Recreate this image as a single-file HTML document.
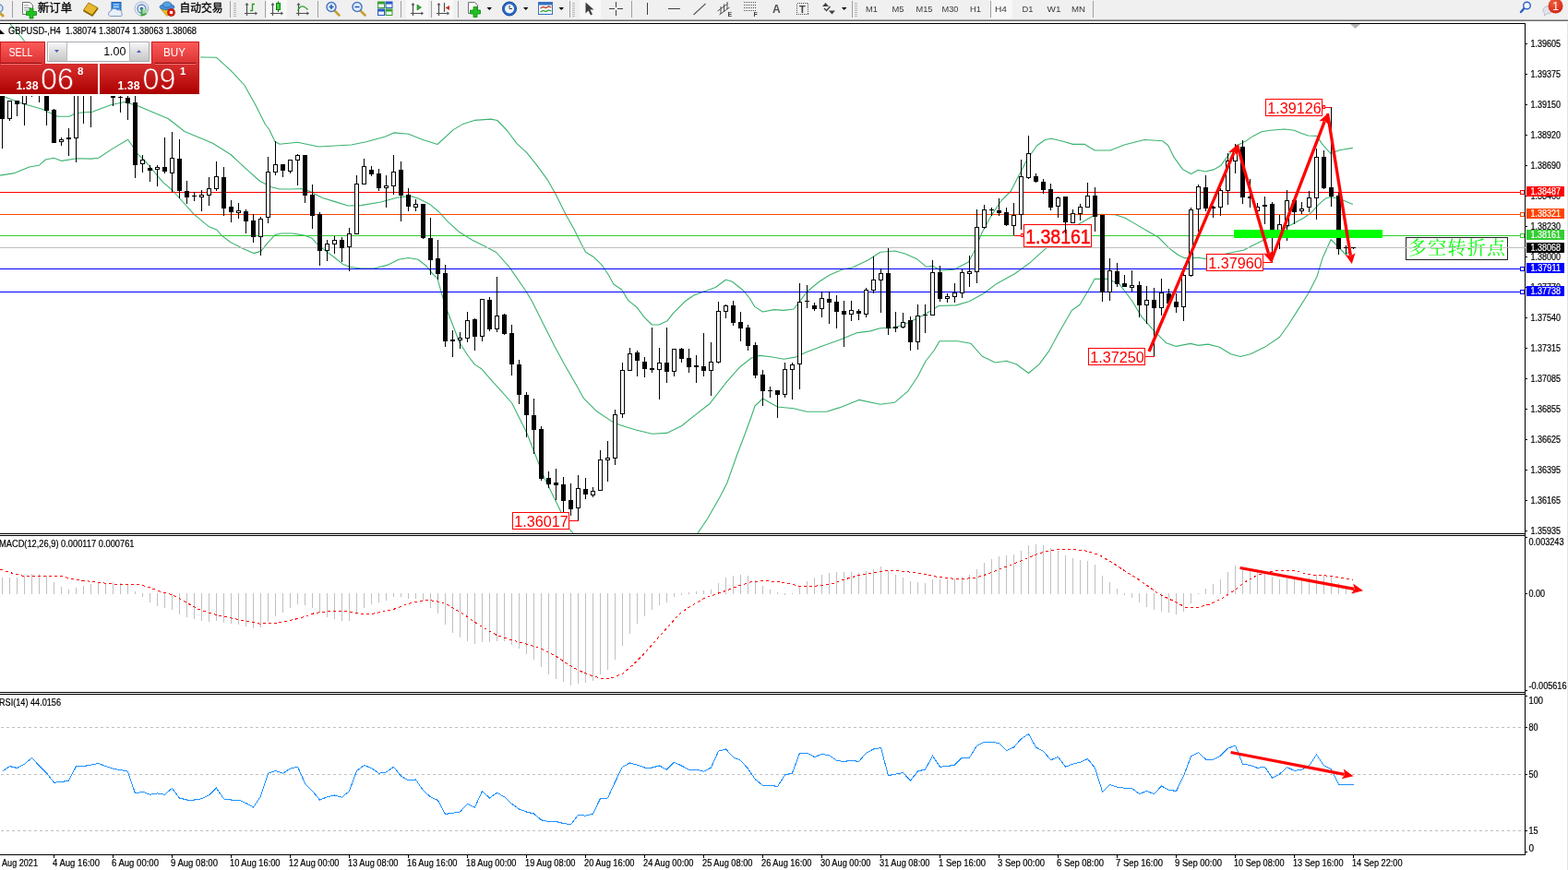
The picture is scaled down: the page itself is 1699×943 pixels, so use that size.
<!DOCTYPE html>
<html lang="zh"><head><meta charset="utf-8"><title>GBPUSD-,H4</title>
<style>html,body{margin:0;padding:0;background:#fff;overflow:hidden}body{width:1699px;height:943px;position:relative;font-family:'Liberation Sans', 'Noto Sans CJK SC', sans-serif}svg{position:absolute;left:0;top:0;display:block}text{font-family:'Liberation Sans', 'Noto Sans CJK SC', sans-serif}</style></head><body>
<svg width="1699" height="943" viewBox="0 0 1699 943">
<defs>
<clipPath id="cm"><rect x="0" y="26" width="1652" height="552"/></clipPath>
<clipPath id="cd"><rect x="0" y="581" width="1652" height="169"/></clipPath>
<clipPath id="cr"><rect x="0" y="753" width="1652" height="173"/></clipPath>
<linearGradient id="gs" x1="0" y1="0" x2="0" y2="1"><stop offset="0" stop-color="#ff5c5c"/><stop offset="1" stop-color="#d93030"/></linearGradient>
<linearGradient id="gp" x1="0" y1="0" x2="0" y2="1"><stop offset="0" stop-color="#d83030"/><stop offset="1" stop-color="#ad0000"/></linearGradient>
<linearGradient id="gb" x1="0" y1="0" x2="0" y2="1"><stop offset="0" stop-color="#f4f4f4"/><stop offset="0.5" stop-color="#dcdcdc"/><stop offset="1" stop-color="#c8c8c8"/></linearGradient>
<radialGradient id="gr" cx="0.4" cy="0.3" r="0.8"><stop offset="0" stop-color="#f0603c"/><stop offset="1" stop-color="#d02010"/></radialGradient>
</defs>
<rect x="0" y="0" width="1699" height="943" fill="#ffffff"/>
<g shape-rendering="crispEdges">
<rect x="0" y="25" width="1653" height="1" fill="#000"/>
<rect x="1652" y="25" width="1" height="902" fill="#000"/>
<rect x="0" y="578" width="1653" height="1" fill="#000"/>
<rect x="0" y="580" width="1653" height="1" fill="#000"/>
<rect x="0" y="750" width="1653" height="1" fill="#000"/>
<rect x="0" y="752" width="1653" height="1" fill="#000"/>
<rect x="0" y="926" width="1653" height="1" fill="#000"/>
<rect x="1698" y="23" width="1" height="920" fill="#e3e3e3"/>
</g>
<g clip-path="url(#cm)">
<polyline fill="none" stroke="#3cb371" stroke-width="1.1" points="11.0,26.0 25.0,42.5 28.0,47.0 60.0,58.0 120.0,64.0 180.0,62.0 217.5,62.0 234.5,62.3 250.0,76.3 265.0,92.5 277.5,115.0 287.5,135.0 291.5,140.0 298.0,153.5 303.0,156.2 322.4,154.3 345.4,159.0 380.7,157.0 396.6,153.8 417.8,148.0 426.6,143.9 442.5,145.3 457.7,151.2 474.0,156.5 491.2,140.6 501.8,134.4 514.2,130.4 531.8,129.1 538.9,130.5 549.5,141.5 560.0,155.6 570.7,165.3 581.3,178.6 593.6,195.4 602.5,211.2 613.0,232.4 621.9,248.3 630.7,266.0 634.8,273.5 643.6,278.8 652.5,287.7 659.5,298.3 664.8,308.0 673.7,314.0 680.7,325.6 689.6,332.7 698.4,344.2 706.3,352.0 714.3,352.0 723.0,347.7 730.0,338.9 742.5,326.5 751.4,320.3 761.2,316.5 775.3,311.5 786.3,303.2 793.0,305.0 805.3,314.7 812.4,323.5 817.7,332.4 826.5,338.0 838.9,335.6 849.5,336.4 860.0,335.0 867.0,326.2 874.2,316.5 886.6,306.0 899.0,298.0 913.0,292.0 923.6,290.0 940.0,282.2 954.0,273.3 970.0,272.0 980.6,275.0 993.0,280.4 1003.6,289.2 1010.6,288.3 1019.5,293.3 1033.6,292.2 1049.5,284.0 1056.5,270.7 1063.6,253.0 1074.2,233.6 1084.8,217.7 1095.4,207.0 1102.5,193.0 1113.0,172.7 1123.6,157.7 1132.5,151.5 1139.5,150.2 1152.0,153.2 1162.5,156.4 1174.9,156.2 1186.3,163.0 1203.0,163.0 1219.0,156.8 1240.0,151.5 1260.0,152.8 1266.0,158.0 1272.0,170.4 1281.4,183.4 1290.6,188.4 1298.3,184.2 1306.0,186.0 1315.0,183.9 1322.7,179.6 1330.4,168.9 1339.6,158.0 1348.8,153.6 1358.0,147.4 1367.0,142.8 1376.3,141.3 1391.6,140.0 1402.3,141.3 1410.0,144.4 1417.6,147.0 1426.8,147.4 1433.0,156.6 1442.0,166.6 1451.3,162.7 1465.8,160.4" stroke-linejoin="round"/>
<polyline fill="none" stroke="#3cb371" stroke-width="1.1" points="0.0,104.0 5.0,105.0 25.0,112.5 45.0,118.0 62.5,126.2 75.0,126.2 82.5,122.5 100.0,121.2 120.0,113.8 135.0,110.5 150.0,115.0 182.5,128.8 200.0,142.5 230.0,155.0 250.0,167.5 265.9,182.4 281.8,196.5 288.0,199.5 294.0,202.7 303.0,205.0 315.3,205.0 326.0,204.5 334.8,207.1 348.9,214.2 363.0,218.6 377.1,223.0 391.3,222.6 412.5,219.0 430.0,214.2 444.2,212.4 453.0,215.0 465.4,221.2 476.0,230.0 484.9,239.8 497.2,251.2 511.3,260.0 525.5,267.1 537.7,273.5 551.8,289.4 569.5,315.0 576.5,326.5 587.0,347.7 601.3,376.0 611.9,395.4 626.0,420.0 632.4,431.7 646.5,445.8 662.4,456.4 671.3,460.4 689.0,466.0 706.6,470.2 722.5,469.4 738.4,461.7 756.0,447.6 768.3,438.3 787.7,413.6 801.8,397.7 814.2,388.0 823.0,385.4 835.4,386.8 849.5,389.2 861.8,387.1 874.2,381.5 891.9,374.8 909.5,368.6 929.0,360.6 943.0,358.9 953.7,355.7 969.6,355.0 983.7,350.0 1001.3,341.2 1017.2,331.5 1035.9,330.9 1050.0,326.8 1066.0,318.0 1080.0,307.4 1099.5,296.8 1115.4,285.3 1133.0,269.4 1148.4,255.7 1169.6,242.4 1183.7,234.5 1192.5,232.2 1208.4,232.7 1219.0,236.2 1229.6,242.4 1242.5,250.0 1254.9,257.0 1267.2,269.4 1276.8,276.5 1283.0,279.6 1298.3,279.3 1307.4,280.6 1332.0,274.2 1347.2,271.2 1359.5,265.0 1370.2,259.7 1394.7,245.9 1413.0,236.0 1420.7,230.6 1428.3,222.2 1436.0,215.3 1442.0,213.5 1452.8,216.0 1465.8,221.4" stroke-linejoin="round"/>
<polyline fill="none" stroke="#3cb371" stroke-width="1.1" points="0.0,190.1 15.9,187.6 31.8,181.0 42.4,179.2 49.4,173.0 58.3,171.2 67.0,174.4 83.0,171.8 98.9,172.1 106.8,171.2 120.0,162.4 138.6,151.3 150.0,167.7 159.0,176.5 176.6,197.7 187.2,206.5 194.2,214.5 210.0,232.2 226.0,245.4 234.9,249.0 240.0,255.1 250.0,262.7 264.0,269.8 274.7,274.6 282.7,272.4 289.7,263.6 297.7,254.8 304.7,253.0 317.0,253.0 329.5,255.1 338.3,258.3 343.6,264.5 352.4,271.6 363.0,279.5 371.8,286.6 378.9,289.2 391.3,291.0 405.4,291.0 419.5,287.4 431.9,281.3 442.5,279.5 453.0,281.3 461.9,288.3 469.0,297.2 474.0,301.8 479.4,321.2 484.7,337.0 498.0,371.5 507.7,386.5 514.7,395.4 521.8,399.8 534.0,413.9 543.0,423.6 554.7,437.0 570.6,468.7 583.0,500.5 590.0,518.2 607.7,554.4 616.5,573.0 621.0,577.9 640.0,605.0 690.0,625.0 740.0,605.0 756.0,577.9 766.6,562.3 780.7,537.6 787.8,523.5 798.4,493.5 807.2,470.5 814.3,451.0 818.0,440.0 826.5,432.0 842.4,441.0 860.0,442.7 874.2,446.3 895.4,446.3 909.5,441.9 930.7,433.4 953.7,438.3 969.6,436.2 983.7,424.2 994.3,408.3 1003.0,391.5 1012.0,380.0 1018.0,369.8 1037.7,369.7 1051.8,372.2 1064.0,386.0 1078.3,393.0 1090.6,391.3 1101.2,394.8 1114.5,404.5 1126.0,394.8 1136.5,380.7 1147.0,361.2 1161.3,336.5 1170.0,330.3 1179.0,315.3 1186.0,302.4 1200.0,302.4 1212.5,307.4 1226.6,326.0 1237.2,343.6 1249.6,357.7 1263.7,371.8 1274.3,375.4 1290.0,372.4 1298.4,374.4 1309.0,373.1 1321.3,376.2 1333.6,383.8 1344.0,386.5 1355.0,383.8 1371.8,375.4 1386.4,365.5 1396.3,351.7 1407.0,334.9 1417.7,318.0 1427.0,299.7 1433.0,279.8 1442.2,259.6 1449.9,267.5 1458.3,276.0 1463.6,271.4" stroke-linejoin="round"/>
<g shape-rendering="crispEdges">
<rect x="0" y="208" width="1652" height="1" fill="#ff0000"/>
<rect x="0" y="232" width="1652" height="1" fill="#ff4500"/>
<rect x="0" y="255" width="1652" height="1" fill="#32cd32"/>
<rect x="0" y="268" width="1652" height="1" fill="#c0c0c0"/>
<rect x="0" y="291" width="1652" height="1" fill="#0000ff"/>
<rect x="0" y="316" width="1652" height="1" fill="#0000ff"/>
</g>
<g shape-rendering="crispEdges">
<polyline fill="none" stroke="#ff0000" stroke-width="1" points="616.5,564.5 626.5,564.5"/>
<rect x="555.5" y="555.5" width="61" height="18" fill="#fff" stroke="#ff0000" stroke-width="1"/>
</g>
<text x="557.2" y="570.7" font-size="16.6" fill="#ff0000" textLength="58.5" lengthAdjust="spacingAndGlyphs">1.36017</text>
<g shape-rendering="crispEdges">
<polyline fill="none" stroke="#ff0000" stroke-width="1" points="1098.5,255.5 1106.5,255.5"/>
<rect x="1109.5" y="243.5" width="73" height="24" fill="#fff" stroke="#ff0000" stroke-width="1"/>
<rect x="1106.5" y="253.5" width="2" height="3" fill="#fff" stroke="#ff0000" stroke-width="1"/>
</g>
<text x="1111.2" y="263.8" font-size="22.6" fill="#ff0000" textLength="70.5" lengthAdjust="spacingAndGlyphs" stroke="#ff0000" stroke-width="0.5">1.38161</text>
<g shape-rendering="crispEdges">
<polyline fill="none" stroke="#ff0000" stroke-width="1" points="1240.5,386.5 1250.5,386.5"/>
<rect x="1179.5" y="377.5" width="61" height="18" fill="#fff" stroke="#ff0000" stroke-width="1"/>
</g>
<text x="1181.2" y="392.7" font-size="16.6" fill="#ff0000" textLength="58.5" lengthAdjust="spacingAndGlyphs">1.37250</text>
<g shape-rendering="crispEdges">
<polyline fill="none" stroke="#ff0000" stroke-width="1" points="1432.5,116.5 1442.5,116.5"/>
<rect x="1371.5" y="107.5" width="61" height="18" fill="#fff" stroke="#ff0000" stroke-width="1"/>
<rect x="1433.5" y="114.5" width="2" height="3" fill="#fff" stroke="#ff0000" stroke-width="1"/>
</g>
<text x="1373.2" y="122.7" font-size="16.6" fill="#ff0000" textLength="58.5" lengthAdjust="spacingAndGlyphs">1.39126</text>
<g shape-rendering="crispEdges">
<polyline fill="none" stroke="#ff0000" stroke-width="1" points="1368.5,284.5 1378.5,284.5"/>
<rect x="1307.5" y="275.5" width="61" height="18" fill="#fff" stroke="#ff0000" stroke-width="1"/>
</g>
<text x="1309.2" y="290.7" font-size="16.6" fill="#ff0000" textLength="58.5" lengthAdjust="spacingAndGlyphs">1.37960</text>
<g shape-rendering="crispEdges">
<rect x="2" y="100" width="1" height="61" fill="#000"/>
<rect x="0" y="100" width="5" height="29" fill="#000"/>
<rect x="10" y="109" width="1" height="22" fill="#000"/>
<rect x="8" y="109" width="5" height="20" fill="#000"/>
<rect x="9" y="110" width="3" height="18" fill="#fff"/>
<rect x="18" y="109" width="1" height="17" fill="#000"/>
<rect x="16" y="109" width="5" height="4" fill="#000"/>
<rect x="26" y="100" width="1" height="36" fill="#000"/>
<rect x="24" y="102" width="5" height="11" fill="#000"/>
<rect x="25" y="103" width="3" height="9" fill="#fff"/>
<rect x="34" y="98" width="1" height="7" fill="#000"/>
<rect x="32" y="99" width="5" height="2" fill="#000"/>
<rect x="42" y="98" width="1" height="13" fill="#000"/>
<rect x="40" y="98" width="5" height="3" fill="#000"/>
<rect x="41" y="99" width="3" height="1" fill="#fff"/>
<rect x="50" y="100" width="1" height="36" fill="#000"/>
<rect x="48" y="102" width="5" height="18" fill="#000"/>
<rect x="58" y="118" width="1" height="37" fill="#000"/>
<rect x="56" y="119" width="5" height="36" fill="#000"/>
<rect x="66" y="149" width="1" height="9" fill="#000"/>
<rect x="64" y="151" width="5" height="3" fill="#000"/>
<rect x="65" y="152" width="3" height="1" fill="#fff"/>
<rect x="74" y="139" width="1" height="30" fill="#000"/>
<rect x="72" y="149" width="5" height="2" fill="#000"/>
<rect x="82" y="100" width="1" height="76" fill="#000"/>
<rect x="80" y="102" width="5" height="48" fill="#000"/>
<rect x="81" y="103" width="3" height="46" fill="#fff"/>
<rect x="90" y="96" width="1" height="38" fill="#000"/>
<rect x="88" y="97" width="5" height="4" fill="#000"/>
<rect x="98" y="96" width="1" height="42" fill="#000"/>
<rect x="96" y="98" width="5" height="4" fill="#000"/>
<rect x="97" y="99" width="3" height="2" fill="#fff"/>
<rect x="106" y="92" width="1" height="9" fill="#000"/>
<rect x="104" y="94" width="5" height="5" fill="#000"/>
<rect x="105" y="95" width="3" height="3" fill="#fff"/>
<rect x="114" y="92" width="1" height="9" fill="#000"/>
<rect x="112" y="94" width="5" height="5" fill="#000"/>
<rect x="122" y="104" width="1" height="11" fill="#000"/>
<rect x="120" y="104" width="5" height="2" fill="#000"/>
<rect x="130" y="100" width="1" height="22" fill="#000"/>
<rect x="128" y="105" width="5" height="1" fill="#000"/>
<rect x="138" y="100" width="1" height="30" fill="#000"/>
<rect x="136" y="106" width="5" height="6" fill="#000"/>
<rect x="146" y="104" width="1" height="89" fill="#000"/>
<rect x="144" y="111" width="5" height="68" fill="#000"/>
<rect x="154" y="168" width="1" height="19" fill="#000"/>
<rect x="152" y="173" width="5" height="5" fill="#000"/>
<rect x="153" y="174" width="3" height="3" fill="#fff"/>
<rect x="162" y="179" width="1" height="18" fill="#000"/>
<rect x="160" y="182" width="5" height="3" fill="#000"/>
<rect x="170" y="179" width="1" height="23" fill="#000"/>
<rect x="168" y="181" width="5" height="3" fill="#000"/>
<rect x="169" y="182" width="3" height="1" fill="#fff"/>
<rect x="178" y="149" width="1" height="39" fill="#000"/>
<rect x="176" y="181" width="5" height="5" fill="#000"/>
<rect x="186" y="143" width="1" height="65" fill="#000"/>
<rect x="184" y="171" width="5" height="17" fill="#000"/>
<rect x="185" y="172" width="3" height="15" fill="#fff"/>
<rect x="194" y="151" width="1" height="64" fill="#000"/>
<rect x="192" y="172" width="5" height="35" fill="#000"/>
<rect x="202" y="196" width="1" height="25" fill="#000"/>
<rect x="200" y="207" width="5" height="7" fill="#000"/>
<rect x="210" y="208" width="1" height="10" fill="#000"/>
<rect x="208" y="212" width="5" height="1" fill="#000"/>
<rect x="218" y="206" width="1" height="23" fill="#000"/>
<rect x="216" y="211" width="5" height="3" fill="#000"/>
<rect x="217" y="212" width="3" height="1" fill="#fff"/>
<rect x="226" y="192" width="1" height="31" fill="#000"/>
<rect x="224" y="204" width="5" height="8" fill="#000"/>
<rect x="225" y="205" width="3" height="6" fill="#fff"/>
<rect x="234" y="175" width="1" height="32" fill="#000"/>
<rect x="232" y="191" width="5" height="14" fill="#000"/>
<rect x="233" y="192" width="3" height="12" fill="#fff"/>
<rect x="242" y="181" width="1" height="53" fill="#000"/>
<rect x="240" y="192" width="5" height="34" fill="#000"/>
<rect x="250" y="217" width="1" height="24" fill="#000"/>
<rect x="248" y="224" width="5" height="6" fill="#000"/>
<rect x="258" y="220" width="1" height="17" fill="#000"/>
<rect x="256" y="228" width="5" height="3" fill="#000"/>
<rect x="257" y="229" width="3" height="1" fill="#fff"/>
<rect x="266" y="227" width="1" height="26" fill="#000"/>
<rect x="264" y="229" width="5" height="11" fill="#000"/>
<rect x="274" y="232" width="1" height="31" fill="#000"/>
<rect x="272" y="239" width="5" height="18" fill="#000"/>
<rect x="282" y="235" width="1" height="42" fill="#000"/>
<rect x="280" y="237" width="5" height="20" fill="#000"/>
<rect x="281" y="238" width="3" height="18" fill="#fff"/>
<rect x="290" y="170" width="1" height="72" fill="#000"/>
<rect x="288" y="186" width="5" height="50" fill="#000"/>
<rect x="289" y="187" width="3" height="48" fill="#fff"/>
<rect x="298" y="153" width="1" height="37" fill="#000"/>
<rect x="296" y="178" width="5" height="9" fill="#000"/>
<rect x="297" y="179" width="3" height="7" fill="#fff"/>
<rect x="306" y="178" width="1" height="14" fill="#000"/>
<rect x="304" y="178" width="5" height="7" fill="#000"/>
<rect x="314" y="173" width="1" height="15" fill="#000"/>
<rect x="312" y="173" width="5" height="13" fill="#000"/>
<rect x="313" y="174" width="3" height="11" fill="#fff"/>
<rect x="322" y="167" width="1" height="34" fill="#000"/>
<rect x="320" y="168" width="5" height="6" fill="#000"/>
<rect x="321" y="169" width="3" height="4" fill="#fff"/>
<rect x="330" y="168" width="1" height="52" fill="#000"/>
<rect x="328" y="168" width="5" height="44" fill="#000"/>
<rect x="338" y="200" width="1" height="48" fill="#000"/>
<rect x="336" y="211" width="5" height="23" fill="#000"/>
<rect x="346" y="230" width="1" height="58" fill="#000"/>
<rect x="344" y="232" width="5" height="40" fill="#000"/>
<rect x="354" y="260" width="1" height="23" fill="#000"/>
<rect x="352" y="264" width="5" height="8" fill="#000"/>
<rect x="353" y="265" width="3" height="6" fill="#fff"/>
<rect x="362" y="256" width="1" height="19" fill="#000"/>
<rect x="360" y="260" width="5" height="5" fill="#000"/>
<rect x="361" y="261" width="3" height="3" fill="#fff"/>
<rect x="370" y="257" width="1" height="27" fill="#000"/>
<rect x="368" y="260" width="5" height="9" fill="#000"/>
<rect x="378" y="247" width="1" height="47" fill="#000"/>
<rect x="376" y="253" width="5" height="15" fill="#000"/>
<rect x="377" y="254" width="3" height="13" fill="#fff"/>
<rect x="386" y="190" width="1" height="64" fill="#000"/>
<rect x="384" y="199" width="5" height="55" fill="#000"/>
<rect x="385" y="200" width="3" height="53" fill="#fff"/>
<rect x="394" y="172" width="1" height="28" fill="#000"/>
<rect x="392" y="180" width="5" height="20" fill="#000"/>
<rect x="393" y="181" width="3" height="18" fill="#fff"/>
<rect x="402" y="180" width="1" height="11" fill="#000"/>
<rect x="400" y="184" width="5" height="5" fill="#000"/>
<rect x="410" y="183" width="1" height="24" fill="#000"/>
<rect x="408" y="188" width="5" height="16" fill="#000"/>
<rect x="418" y="190" width="1" height="35" fill="#000"/>
<rect x="416" y="201" width="5" height="3" fill="#000"/>
<rect x="417" y="202" width="3" height="1" fill="#fff"/>
<rect x="426" y="168" width="1" height="43" fill="#000"/>
<rect x="424" y="186" width="5" height="16" fill="#000"/>
<rect x="425" y="187" width="3" height="14" fill="#fff"/>
<rect x="434" y="175" width="1" height="65" fill="#000"/>
<rect x="432" y="184" width="5" height="28" fill="#000"/>
<rect x="442" y="204" width="1" height="25" fill="#000"/>
<rect x="440" y="211" width="5" height="13" fill="#000"/>
<rect x="450" y="216" width="1" height="13" fill="#000"/>
<rect x="448" y="221" width="5" height="4" fill="#000"/>
<rect x="449" y="222" width="3" height="2" fill="#fff"/>
<rect x="458" y="221" width="1" height="38" fill="#000"/>
<rect x="456" y="221" width="5" height="37" fill="#000"/>
<rect x="466" y="236" width="1" height="62" fill="#000"/>
<rect x="464" y="258" width="5" height="24" fill="#000"/>
<rect x="474" y="260" width="1" height="43" fill="#000"/>
<rect x="472" y="280" width="5" height="17" fill="#000"/>
<rect x="482" y="287" width="1" height="89" fill="#000"/>
<rect x="480" y="296" width="5" height="74" fill="#000"/>
<rect x="490" y="358" width="1" height="29" fill="#000"/>
<rect x="488" y="368" width="5" height="2" fill="#000"/>
<rect x="498" y="360" width="1" height="18" fill="#000"/>
<rect x="496" y="366" width="5" height="3" fill="#000"/>
<rect x="497" y="367" width="3" height="1" fill="#fff"/>
<rect x="506" y="338" width="1" height="33" fill="#000"/>
<rect x="504" y="347" width="5" height="20" fill="#000"/>
<rect x="505" y="348" width="3" height="18" fill="#fff"/>
<rect x="514" y="345" width="1" height="35" fill="#000"/>
<rect x="512" y="346" width="5" height="19" fill="#000"/>
<rect x="522" y="324" width="1" height="46" fill="#000"/>
<rect x="520" y="324" width="5" height="41" fill="#000"/>
<rect x="521" y="325" width="3" height="39" fill="#fff"/>
<rect x="530" y="322" width="1" height="37" fill="#000"/>
<rect x="528" y="325" width="5" height="32" fill="#000"/>
<rect x="538" y="300" width="1" height="60" fill="#000"/>
<rect x="536" y="342" width="5" height="15" fill="#000"/>
<rect x="537" y="343" width="3" height="13" fill="#fff"/>
<rect x="546" y="340" width="1" height="23" fill="#000"/>
<rect x="544" y="341" width="5" height="21" fill="#000"/>
<rect x="554" y="352" width="1" height="55" fill="#000"/>
<rect x="552" y="361" width="5" height="34" fill="#000"/>
<rect x="562" y="390" width="1" height="48" fill="#000"/>
<rect x="560" y="395" width="5" height="33" fill="#000"/>
<rect x="570" y="425" width="1" height="49" fill="#000"/>
<rect x="568" y="428" width="5" height="22" fill="#000"/>
<rect x="578" y="432" width="1" height="60" fill="#000"/>
<rect x="576" y="450" width="5" height="16" fill="#000"/>
<rect x="586" y="462" width="1" height="59" fill="#000"/>
<rect x="584" y="465" width="5" height="54" fill="#000"/>
<rect x="594" y="511" width="1" height="18" fill="#000"/>
<rect x="592" y="518" width="5" height="7" fill="#000"/>
<rect x="602" y="508" width="1" height="34" fill="#000"/>
<rect x="600" y="523" width="5" height="3" fill="#000"/>
<rect x="610" y="517" width="1" height="38" fill="#000"/>
<rect x="608" y="525" width="5" height="18" fill="#000"/>
<rect x="618" y="524" width="1" height="35" fill="#000"/>
<rect x="616" y="542" width="5" height="10" fill="#000"/>
<rect x="626" y="515" width="1" height="49" fill="#000"/>
<rect x="624" y="529" width="5" height="22" fill="#000"/>
<rect x="625" y="530" width="3" height="20" fill="#fff"/>
<rect x="634" y="518" width="1" height="23" fill="#000"/>
<rect x="632" y="530" width="5" height="6" fill="#000"/>
<rect x="642" y="528" width="1" height="11" fill="#000"/>
<rect x="640" y="532" width="5" height="5" fill="#000"/>
<rect x="641" y="533" width="3" height="3" fill="#fff"/>
<rect x="650" y="488" width="1" height="44" fill="#000"/>
<rect x="648" y="498" width="5" height="34" fill="#000"/>
<rect x="649" y="499" width="3" height="32" fill="#fff"/>
<rect x="658" y="478" width="1" height="44" fill="#000"/>
<rect x="656" y="496" width="5" height="3" fill="#000"/>
<rect x="657" y="497" width="3" height="1" fill="#fff"/>
<rect x="666" y="444" width="1" height="60" fill="#000"/>
<rect x="664" y="449" width="5" height="48" fill="#000"/>
<rect x="665" y="450" width="3" height="46" fill="#fff"/>
<rect x="674" y="393" width="1" height="60" fill="#000"/>
<rect x="672" y="401" width="5" height="48" fill="#000"/>
<rect x="673" y="402" width="3" height="46" fill="#fff"/>
<rect x="682" y="377" width="1" height="25" fill="#000"/>
<rect x="680" y="383" width="5" height="19" fill="#000"/>
<rect x="681" y="384" width="3" height="17" fill="#fff"/>
<rect x="690" y="380" width="1" height="28" fill="#000"/>
<rect x="688" y="382" width="5" height="9" fill="#000"/>
<rect x="698" y="387" width="1" height="22" fill="#000"/>
<rect x="696" y="392" width="5" height="8" fill="#000"/>
<rect x="706" y="355" width="1" height="49" fill="#000"/>
<rect x="704" y="399" width="5" height="2" fill="#000"/>
<rect x="714" y="377" width="1" height="56" fill="#000"/>
<rect x="712" y="393" width="5" height="8" fill="#000"/>
<rect x="713" y="394" width="3" height="6" fill="#fff"/>
<rect x="722" y="355" width="1" height="60" fill="#000"/>
<rect x="720" y="393" width="5" height="10" fill="#000"/>
<rect x="730" y="378" width="1" height="30" fill="#000"/>
<rect x="728" y="378" width="5" height="25" fill="#000"/>
<rect x="729" y="379" width="3" height="23" fill="#fff"/>
<rect x="738" y="377" width="1" height="16" fill="#000"/>
<rect x="736" y="378" width="5" height="11" fill="#000"/>
<rect x="746" y="378" width="1" height="26" fill="#000"/>
<rect x="744" y="388" width="5" height="10" fill="#000"/>
<rect x="754" y="385" width="1" height="30" fill="#000"/>
<rect x="752" y="396" width="5" height="2" fill="#000"/>
<rect x="762" y="361" width="1" height="47" fill="#000"/>
<rect x="760" y="397" width="5" height="5" fill="#000"/>
<rect x="770" y="371" width="1" height="58" fill="#000"/>
<rect x="768" y="392" width="5" height="10" fill="#000"/>
<rect x="769" y="393" width="3" height="8" fill="#fff"/>
<rect x="778" y="327" width="1" height="67" fill="#000"/>
<rect x="776" y="337" width="5" height="56" fill="#000"/>
<rect x="777" y="338" width="3" height="54" fill="#fff"/>
<rect x="786" y="330" width="1" height="15" fill="#000"/>
<rect x="784" y="331" width="5" height="7" fill="#000"/>
<rect x="785" y="332" width="3" height="5" fill="#fff"/>
<rect x="794" y="326" width="1" height="27" fill="#000"/>
<rect x="792" y="331" width="5" height="19" fill="#000"/>
<rect x="802" y="338" width="1" height="32" fill="#000"/>
<rect x="800" y="349" width="5" height="7" fill="#000"/>
<rect x="810" y="352" width="1" height="28" fill="#000"/>
<rect x="808" y="355" width="5" height="20" fill="#000"/>
<rect x="818" y="371" width="1" height="39" fill="#000"/>
<rect x="816" y="374" width="5" height="33" fill="#000"/>
<rect x="826" y="401" width="1" height="39" fill="#000"/>
<rect x="824" y="406" width="5" height="18" fill="#000"/>
<rect x="834" y="419" width="1" height="12" fill="#000"/>
<rect x="832" y="423" width="5" height="1" fill="#000"/>
<rect x="842" y="423" width="1" height="30" fill="#000"/>
<rect x="840" y="423" width="5" height="5" fill="#000"/>
<rect x="850" y="393" width="1" height="38" fill="#000"/>
<rect x="848" y="400" width="5" height="28" fill="#000"/>
<rect x="849" y="401" width="3" height="26" fill="#fff"/>
<rect x="858" y="393" width="1" height="40" fill="#000"/>
<rect x="856" y="395" width="5" height="6" fill="#000"/>
<rect x="857" y="396" width="3" height="4" fill="#fff"/>
<rect x="866" y="307" width="1" height="115" fill="#000"/>
<rect x="864" y="327" width="5" height="68" fill="#000"/>
<rect x="865" y="328" width="3" height="66" fill="#fff"/>
<rect x="874" y="309" width="1" height="25" fill="#000"/>
<rect x="872" y="326" width="5" height="1" fill="#000"/>
<rect x="882" y="328" width="1" height="9" fill="#000"/>
<rect x="880" y="331" width="5" height="4" fill="#000"/>
<rect x="890" y="316" width="1" height="28" fill="#000"/>
<rect x="888" y="323" width="5" height="12" fill="#000"/>
<rect x="889" y="324" width="3" height="10" fill="#fff"/>
<rect x="898" y="316" width="1" height="35" fill="#000"/>
<rect x="896" y="324" width="5" height="4" fill="#000"/>
<rect x="906" y="320" width="1" height="36" fill="#000"/>
<rect x="904" y="327" width="5" height="11" fill="#000"/>
<rect x="914" y="326" width="1" height="50" fill="#000"/>
<rect x="912" y="337" width="5" height="4" fill="#000"/>
<rect x="922" y="326" width="1" height="22" fill="#000"/>
<rect x="920" y="336" width="5" height="5" fill="#000"/>
<rect x="921" y="337" width="3" height="3" fill="#fff"/>
<rect x="930" y="335" width="1" height="12" fill="#000"/>
<rect x="928" y="337" width="5" height="3" fill="#000"/>
<rect x="938" y="312" width="1" height="32" fill="#000"/>
<rect x="936" y="314" width="5" height="27" fill="#000"/>
<rect x="937" y="315" width="3" height="25" fill="#fff"/>
<rect x="946" y="278" width="1" height="40" fill="#000"/>
<rect x="944" y="303" width="5" height="12" fill="#000"/>
<rect x="945" y="304" width="3" height="10" fill="#fff"/>
<rect x="954" y="291" width="1" height="48" fill="#000"/>
<rect x="952" y="296" width="5" height="8" fill="#000"/>
<rect x="953" y="297" width="3" height="6" fill="#fff"/>
<rect x="962" y="269" width="1" height="94" fill="#000"/>
<rect x="960" y="296" width="5" height="60" fill="#000"/>
<rect x="970" y="338" width="1" height="22" fill="#000"/>
<rect x="968" y="354" width="5" height="2" fill="#000"/>
<rect x="978" y="339" width="1" height="17" fill="#000"/>
<rect x="976" y="349" width="5" height="6" fill="#000"/>
<rect x="977" y="350" width="3" height="4" fill="#fff"/>
<rect x="986" y="343" width="1" height="37" fill="#000"/>
<rect x="984" y="347" width="5" height="24" fill="#000"/>
<rect x="994" y="330" width="1" height="49" fill="#000"/>
<rect x="992" y="342" width="5" height="29" fill="#000"/>
<rect x="993" y="343" width="3" height="27" fill="#fff"/>
<rect x="1002" y="330" width="1" height="31" fill="#000"/>
<rect x="1000" y="341" width="5" height="1" fill="#000"/>
<rect x="1010" y="282" width="1" height="60" fill="#000"/>
<rect x="1008" y="295" width="5" height="47" fill="#000"/>
<rect x="1009" y="296" width="3" height="45" fill="#fff"/>
<rect x="1018" y="288" width="1" height="39" fill="#000"/>
<rect x="1016" y="295" width="5" height="29" fill="#000"/>
<rect x="1026" y="318" width="1" height="10" fill="#000"/>
<rect x="1024" y="321" width="5" height="3" fill="#000"/>
<rect x="1025" y="322" width="3" height="1" fill="#fff"/>
<rect x="1034" y="307" width="1" height="21" fill="#000"/>
<rect x="1032" y="317" width="5" height="5" fill="#000"/>
<rect x="1033" y="318" width="3" height="3" fill="#fff"/>
<rect x="1042" y="292" width="1" height="31" fill="#000"/>
<rect x="1040" y="295" width="5" height="23" fill="#000"/>
<rect x="1041" y="296" width="3" height="21" fill="#fff"/>
<rect x="1050" y="277" width="1" height="34" fill="#000"/>
<rect x="1048" y="294" width="5" height="3" fill="#000"/>
<rect x="1049" y="295" width="3" height="1" fill="#fff"/>
<rect x="1058" y="227" width="1" height="80" fill="#000"/>
<rect x="1056" y="246" width="5" height="49" fill="#000"/>
<rect x="1057" y="247" width="3" height="47" fill="#fff"/>
<rect x="1066" y="222" width="1" height="26" fill="#000"/>
<rect x="1064" y="227" width="5" height="20" fill="#000"/>
<rect x="1065" y="228" width="3" height="18" fill="#fff"/>
<rect x="1074" y="225" width="1" height="9" fill="#000"/>
<rect x="1072" y="227" width="5" height="1" fill="#000"/>
<rect x="1082" y="215" width="1" height="19" fill="#000"/>
<rect x="1080" y="228" width="5" height="3" fill="#000"/>
<rect x="1090" y="225" width="1" height="20" fill="#000"/>
<rect x="1088" y="230" width="5" height="14" fill="#000"/>
<rect x="1098" y="220" width="1" height="35" fill="#000"/>
<rect x="1096" y="233" width="5" height="12" fill="#000"/>
<rect x="1097" y="234" width="3" height="10" fill="#fff"/>
<rect x="1106" y="173" width="1" height="76" fill="#000"/>
<rect x="1104" y="191" width="5" height="42" fill="#000"/>
<rect x="1105" y="192" width="3" height="40" fill="#fff"/>
<rect x="1114" y="147" width="1" height="47" fill="#000"/>
<rect x="1112" y="166" width="5" height="27" fill="#000"/>
<rect x="1113" y="167" width="3" height="25" fill="#fff"/>
<rect x="1122" y="188" width="1" height="10" fill="#000"/>
<rect x="1120" y="191" width="5" height="6" fill="#000"/>
<rect x="1130" y="194" width="1" height="16" fill="#000"/>
<rect x="1128" y="197" width="5" height="9" fill="#000"/>
<rect x="1138" y="199" width="1" height="29" fill="#000"/>
<rect x="1136" y="205" width="5" height="20" fill="#000"/>
<rect x="1146" y="213" width="1" height="23" fill="#000"/>
<rect x="1144" y="214" width="5" height="10" fill="#000"/>
<rect x="1145" y="215" width="3" height="8" fill="#fff"/>
<rect x="1154" y="213" width="1" height="40" fill="#000"/>
<rect x="1152" y="213" width="5" height="28" fill="#000"/>
<rect x="1162" y="227" width="1" height="15" fill="#000"/>
<rect x="1160" y="231" width="5" height="11" fill="#000"/>
<rect x="1161" y="232" width="3" height="9" fill="#fff"/>
<rect x="1170" y="221" width="1" height="18" fill="#000"/>
<rect x="1168" y="224" width="5" height="8" fill="#000"/>
<rect x="1169" y="225" width="3" height="6" fill="#fff"/>
<rect x="1178" y="198" width="1" height="27" fill="#000"/>
<rect x="1176" y="212" width="5" height="13" fill="#000"/>
<rect x="1177" y="213" width="3" height="11" fill="#fff"/>
<rect x="1186" y="203" width="1" height="48" fill="#000"/>
<rect x="1184" y="212" width="5" height="23" fill="#000"/>
<rect x="1194" y="233" width="1" height="94" fill="#000"/>
<rect x="1192" y="233" width="5" height="84" fill="#000"/>
<rect x="1202" y="280" width="1" height="46" fill="#000"/>
<rect x="1200" y="293" width="5" height="24" fill="#000"/>
<rect x="1201" y="294" width="3" height="22" fill="#fff"/>
<rect x="1210" y="285" width="1" height="26" fill="#000"/>
<rect x="1208" y="294" width="5" height="14" fill="#000"/>
<rect x="1218" y="298" width="1" height="13" fill="#000"/>
<rect x="1216" y="307" width="5" height="4" fill="#000"/>
<rect x="1226" y="293" width="1" height="23" fill="#000"/>
<rect x="1224" y="309" width="5" height="3" fill="#000"/>
<rect x="1225" y="310" width="3" height="1" fill="#fff"/>
<rect x="1234" y="305" width="1" height="39" fill="#000"/>
<rect x="1232" y="309" width="5" height="22" fill="#000"/>
<rect x="1242" y="310" width="1" height="41" fill="#000"/>
<rect x="1240" y="325" width="5" height="6" fill="#000"/>
<rect x="1241" y="326" width="3" height="4" fill="#fff"/>
<rect x="1250" y="312" width="1" height="74" fill="#000"/>
<rect x="1248" y="325" width="5" height="9" fill="#000"/>
<rect x="1258" y="302" width="1" height="40" fill="#000"/>
<rect x="1256" y="317" width="5" height="17" fill="#000"/>
<rect x="1257" y="318" width="3" height="15" fill="#fff"/>
<rect x="1266" y="313" width="1" height="16" fill="#000"/>
<rect x="1264" y="318" width="5" height="11" fill="#000"/>
<rect x="1274" y="318" width="1" height="21" fill="#000"/>
<rect x="1272" y="327" width="5" height="6" fill="#000"/>
<rect x="1282" y="289" width="1" height="59" fill="#000"/>
<rect x="1280" y="298" width="5" height="35" fill="#000"/>
<rect x="1281" y="299" width="3" height="33" fill="#fff"/>
<rect x="1290" y="225" width="1" height="75" fill="#000"/>
<rect x="1288" y="227" width="5" height="72" fill="#000"/>
<rect x="1289" y="228" width="3" height="70" fill="#fff"/>
<rect x="1298" y="200" width="1" height="51" fill="#000"/>
<rect x="1296" y="202" width="5" height="25" fill="#000"/>
<rect x="1297" y="203" width="3" height="23" fill="#fff"/>
<rect x="1306" y="190" width="1" height="39" fill="#000"/>
<rect x="1304" y="203" width="5" height="23" fill="#000"/>
<rect x="1314" y="223" width="1" height="13" fill="#000"/>
<rect x="1312" y="224" width="5" height="2" fill="#000"/>
<rect x="1322" y="204" width="1" height="30" fill="#000"/>
<rect x="1320" y="206" width="5" height="19" fill="#000"/>
<rect x="1321" y="207" width="3" height="17" fill="#fff"/>
<rect x="1330" y="166" width="1" height="56" fill="#000"/>
<rect x="1328" y="174" width="5" height="33" fill="#000"/>
<rect x="1329" y="175" width="3" height="31" fill="#fff"/>
<rect x="1338" y="156" width="1" height="32" fill="#000"/>
<rect x="1336" y="161" width="5" height="14" fill="#000"/>
<rect x="1337" y="162" width="3" height="12" fill="#fff"/>
<rect x="1346" y="152" width="1" height="69" fill="#000"/>
<rect x="1344" y="159" width="5" height="55" fill="#000"/>
<rect x="1354" y="194" width="1" height="31" fill="#000"/>
<rect x="1352" y="213" width="5" height="2" fill="#000"/>
<rect x="1362" y="220" width="1" height="9" fill="#000"/>
<rect x="1360" y="224" width="5" height="5" fill="#000"/>
<rect x="1361" y="225" width="3" height="3" fill="#fff"/>
<rect x="1370" y="213" width="1" height="30" fill="#000"/>
<rect x="1368" y="222" width="5" height="2" fill="#000"/>
<rect x="1378" y="219" width="1" height="65" fill="#000"/>
<rect x="1376" y="221" width="5" height="31" fill="#000"/>
<rect x="1386" y="233" width="1" height="37" fill="#000"/>
<rect x="1384" y="243" width="5" height="9" fill="#000"/>
<rect x="1385" y="244" width="3" height="7" fill="#fff"/>
<rect x="1394" y="206" width="1" height="55" fill="#000"/>
<rect x="1392" y="217" width="5" height="28" fill="#000"/>
<rect x="1393" y="218" width="3" height="26" fill="#fff"/>
<rect x="1402" y="217" width="1" height="26" fill="#000"/>
<rect x="1400" y="217" width="5" height="13" fill="#000"/>
<rect x="1410" y="219" width="1" height="13" fill="#000"/>
<rect x="1408" y="226" width="5" height="3" fill="#000"/>
<rect x="1409" y="227" width="3" height="1" fill="#fff"/>
<rect x="1418" y="207" width="1" height="23" fill="#000"/>
<rect x="1416" y="214" width="5" height="11" fill="#000"/>
<rect x="1417" y="215" width="3" height="9" fill="#fff"/>
<rect x="1426" y="161" width="1" height="77" fill="#000"/>
<rect x="1424" y="170" width="5" height="45" fill="#000"/>
<rect x="1425" y="171" width="3" height="43" fill="#fff"/>
<rect x="1434" y="163" width="1" height="42" fill="#000"/>
<rect x="1432" y="170" width="5" height="34" fill="#000"/>
<rect x="1442" y="116" width="1" height="108" fill="#000"/>
<rect x="1440" y="203" width="5" height="10" fill="#000"/>
<rect x="1450" y="208" width="1" height="68" fill="#000"/>
<rect x="1448" y="212" width="5" height="58" fill="#000"/>
<rect x="1458" y="266" width="1" height="9" fill="#000"/>
<rect x="1456" y="268" width="5" height="1" fill="#000"/>
<rect x="1466" y="268" width="1" height="2" fill="#000"/>
<rect x="1464" y="268" width="5" height="1" fill="#000"/>
</g>
</g>
<rect x="1337" y="249" width="161" height="9" fill="#00ff00" shape-rendering="crispEdges"/>
<line x1="1245.0" y1="381.0" x2="1337.0" y2="165.3" stroke="#ff0000" stroke-width="3.3"/>
<polygon fill="#ff0000" points="1340.5,157.0 1341.2,169.3 1337.2,164.8 1331.1,165.0"/>
<line x1="1340.5" y1="157.0" x2="1374.5" y2="274.9" stroke="#ff0000" stroke-width="3.3"/>
<polygon fill="#ff0000" points="1377.0,283.5 1368.7,274.5 1374.6,275.3 1379.2,271.4"/>
<line x1="1377.0" y1="283.5" x2="1435.3" y2="131.4" stroke="#ff0000" stroke-width="3.3"/>
<polygon fill="#ff0000" points="1438.5,123.0 1439.7,135.2 1435.5,130.9 1429.4,131.3"/>
<line x1="1438.5" y1="123.0" x2="1463.4" y2="277.1" stroke="#ff0000" stroke-width="3.3"/>
<polygon fill="#ff0000" points="1464.8,286.0 1457.6,276.0 1463.4,277.6 1468.5,274.3"/>
<rect x="1523.5" y="257.5" width="110" height="24" fill="#fff" stroke="#222" stroke-width="1" shape-rendering="crispEdges"/>
<text x="1526" y="276.3" font-size="20" fill="#00ff00" textLength="105" lengthAdjust="spacing" style="font-family:'Noto Serif CJK SC','Noto Sans CJK SC',serif;font-weight:400">多空转折点</text>
<rect x="1523" y="268" width="130" height="1" fill="#c0c0c0" shape-rendering="crispEdges" opacity="0.9"/>
<rect x="1647.5" y="206.5" width="4" height="4" fill="#fff" stroke="#ff0000" stroke-width="1" shape-rendering="crispEdges"/>
<rect x="1647.5" y="230.5" width="4" height="4" fill="#fff" stroke="#ff4500" stroke-width="1" shape-rendering="crispEdges"/>
<rect x="1647.5" y="253.5" width="4" height="4" fill="#fff" stroke="#32cd32" stroke-width="1" shape-rendering="crispEdges"/>
<rect x="1647.5" y="289.5" width="4" height="4" fill="#fff" stroke="#0000ff" stroke-width="1" shape-rendering="crispEdges"/>
<rect x="1647.5" y="314.5" width="4" height="4" fill="#fff" stroke="#0000ff" stroke-width="1" shape-rendering="crispEdges"/>
<polygon points="1463,26 1474,26 1468.5,31" fill="#b4b4b4"/>
<polygon points="0,32 0,37 5,37" fill="#000"/>
<text x="9" y="37" font-size="10" fill="#000" textLength="204" lengthAdjust="spacingAndGlyphs" stroke="#000" stroke-width="0.2">GBPUSD-,H4&#160; 1.38074 1.38074 1.38063 1.38068</text>
<g shape-rendering="crispEdges">
<rect x="1653" y="47" width="2" height="1" fill="#000"/>
<rect x="1653" y="80" width="2" height="1" fill="#000"/>
<rect x="1653" y="113" width="2" height="1" fill="#000"/>
<rect x="1653" y="146" width="2" height="1" fill="#000"/>
<rect x="1653" y="179" width="2" height="1" fill="#000"/>
<rect x="1653" y="212" width="2" height="1" fill="#000"/>
<rect x="1653" y="245" width="2" height="1" fill="#000"/>
<rect x="1653" y="278" width="2" height="1" fill="#000"/>
<rect x="1653" y="311" width="2" height="1" fill="#000"/>
<rect x="1653" y="344" width="2" height="1" fill="#000"/>
<rect x="1653" y="377" width="2" height="1" fill="#000"/>
<rect x="1653" y="410" width="2" height="1" fill="#000"/>
<rect x="1653" y="443" width="2" height="1" fill="#000"/>
<rect x="1653" y="476" width="2" height="1" fill="#000"/>
<rect x="1653" y="509" width="2" height="1" fill="#000"/>
<rect x="1653" y="542" width="2" height="1" fill="#000"/>
<rect x="1653" y="575" width="2" height="1" fill="#000"/>
</g>
<text x="1658.5" y="51.1" font-size="10" fill="#000" textLength="32.5" lengthAdjust="spacingAndGlyphs" stroke="#000" stroke-width="0.2">1.39605</text>
<text x="1658.5" y="84.08" font-size="10" fill="#000" textLength="32.5" lengthAdjust="spacingAndGlyphs" stroke="#000" stroke-width="0.2">1.39375</text>
<text x="1658.5" y="117.06" font-size="10" fill="#000" textLength="32.5" lengthAdjust="spacingAndGlyphs" stroke="#000" stroke-width="0.2">1.39150</text>
<text x="1658.5" y="150.04" font-size="10" fill="#000" textLength="32.5" lengthAdjust="spacingAndGlyphs" stroke="#000" stroke-width="0.2">1.38920</text>
<text x="1658.5" y="183.02" font-size="10" fill="#000" textLength="32.5" lengthAdjust="spacingAndGlyphs" stroke="#000" stroke-width="0.2">1.38690</text>
<text x="1658.5" y="216" font-size="10" fill="#000" textLength="32.5" lengthAdjust="spacingAndGlyphs" stroke="#000" stroke-width="0.2">1.38460</text>
<text x="1658.5" y="248.98" font-size="10" fill="#000" textLength="32.5" lengthAdjust="spacingAndGlyphs" stroke="#000" stroke-width="0.2">1.38230</text>
<text x="1658.5" y="281.96" font-size="10" fill="#000" textLength="32.5" lengthAdjust="spacingAndGlyphs" stroke="#000" stroke-width="0.2">1.38000</text>
<text x="1658.5" y="314.94" font-size="10" fill="#000" textLength="32.5" lengthAdjust="spacingAndGlyphs" stroke="#000" stroke-width="0.2">1.37770</text>
<text x="1658.5" y="347.92" font-size="10" fill="#000" textLength="32.5" lengthAdjust="spacingAndGlyphs" stroke="#000" stroke-width="0.2">1.37540</text>
<text x="1658.5" y="380.9" font-size="10" fill="#000" textLength="32.5" lengthAdjust="spacingAndGlyphs" stroke="#000" stroke-width="0.2">1.37315</text>
<text x="1658.5" y="413.88" font-size="10" fill="#000" textLength="32.5" lengthAdjust="spacingAndGlyphs" stroke="#000" stroke-width="0.2">1.37085</text>
<text x="1658.5" y="446.86" font-size="10" fill="#000" textLength="32.5" lengthAdjust="spacingAndGlyphs" stroke="#000" stroke-width="0.2">1.36855</text>
<text x="1658.5" y="479.84" font-size="10" fill="#000" textLength="32.5" lengthAdjust="spacingAndGlyphs" stroke="#000" stroke-width="0.2">1.36625</text>
<text x="1658.5" y="512.82" font-size="10" fill="#000" textLength="32.5" lengthAdjust="spacingAndGlyphs" stroke="#000" stroke-width="0.2">1.36395</text>
<text x="1658.5" y="545.8" font-size="10" fill="#000" textLength="32.5" lengthAdjust="spacingAndGlyphs" stroke="#000" stroke-width="0.2">1.36165</text>
<text x="1658.5" y="578.78" font-size="10" fill="#000" textLength="32.5" lengthAdjust="spacingAndGlyphs" stroke="#000" stroke-width="0.2">1.35935</text>
<rect x="1654" y="202" width="41" height="11" fill="#ff0000" shape-rendering="crispEdges"/>
<text x="1658.5" y="211" font-size="10" fill="#fff" textLength="32.5" lengthAdjust="spacingAndGlyphs" stroke="#fff" stroke-width="0.2">1.38487</text>
<rect x="1654" y="226" width="41" height="11" fill="#ff4500" shape-rendering="crispEdges"/>
<text x="1658.5" y="235" font-size="10" fill="#fff" textLength="32.5" lengthAdjust="spacingAndGlyphs" stroke="#fff" stroke-width="0.2">1.38321</text>
<rect x="1654" y="249" width="41" height="11" fill="#32cd32" shape-rendering="crispEdges"/>
<text x="1658.5" y="258" font-size="10" fill="#fff" textLength="32.5" lengthAdjust="spacingAndGlyphs" stroke="#fff" stroke-width="0.2">1.38161</text>
<rect x="1654" y="263" width="41" height="11" fill="#000000" shape-rendering="crispEdges"/>
<text x="1658.5" y="272" font-size="10" fill="#fff" textLength="32.5" lengthAdjust="spacingAndGlyphs" stroke="#fff" stroke-width="0.2">1.38068</text>
<rect x="1654" y="285" width="41" height="11" fill="#0000ff" shape-rendering="crispEdges"/>
<text x="1658.5" y="294" font-size="10" fill="#fff" textLength="32.5" lengthAdjust="spacingAndGlyphs" stroke="#fff" stroke-width="0.2">1.37911</text>
<rect x="1654" y="310" width="41" height="11" fill="#0000ff" shape-rendering="crispEdges"/>
<text x="1658.5" y="319" font-size="10" fill="#fff" textLength="32.5" lengthAdjust="spacingAndGlyphs" stroke="#fff" stroke-width="0.2">1.37738</text>
<g clip-path="url(#cd)">
<g shape-rendering="crispEdges">
<rect x="2" y="626" width="1" height="18" fill="#c0c0c0"/>
<rect x="10" y="626" width="1" height="18" fill="#c0c0c0"/>
<rect x="18" y="626" width="1" height="18" fill="#c0c0c0"/>
<rect x="26" y="624" width="1" height="20" fill="#c0c0c0"/>
<rect x="34" y="622" width="1" height="22" fill="#c0c0c0"/>
<rect x="42" y="622" width="1" height="22" fill="#c0c0c0"/>
<rect x="50" y="624" width="1" height="20" fill="#c0c0c0"/>
<rect x="58" y="631" width="1" height="13" fill="#c0c0c0"/>
<rect x="66" y="636" width="1" height="8" fill="#c0c0c0"/>
<rect x="74" y="639" width="1" height="5" fill="#c0c0c0"/>
<rect x="82" y="637" width="1" height="7" fill="#c0c0c0"/>
<rect x="90" y="635" width="1" height="9" fill="#c0c0c0"/>
<rect x="98" y="633" width="1" height="11" fill="#c0c0c0"/>
<rect x="106" y="631" width="1" height="13" fill="#c0c0c0"/>
<rect x="114" y="632" width="1" height="12" fill="#c0c0c0"/>
<rect x="122" y="631" width="1" height="13" fill="#c0c0c0"/>
<rect x="130" y="632" width="1" height="12" fill="#c0c0c0"/>
<rect x="138" y="634" width="1" height="10" fill="#c0c0c0"/>
<rect x="146" y="641" width="1" height="3" fill="#c0c0c0"/>
<rect x="154" y="643" width="1" height="4" fill="#c0c0c0"/>
<rect x="162" y="643" width="1" height="10" fill="#c0c0c0"/>
<rect x="170" y="643" width="1" height="14" fill="#c0c0c0"/>
<rect x="178" y="643" width="1" height="16" fill="#c0c0c0"/>
<rect x="186" y="643" width="1" height="18" fill="#c0c0c0"/>
<rect x="194" y="643" width="1" height="23" fill="#c0c0c0"/>
<rect x="202" y="643" width="1" height="26" fill="#c0c0c0"/>
<rect x="210" y="643" width="1" height="28" fill="#c0c0c0"/>
<rect x="218" y="643" width="1" height="30" fill="#c0c0c0"/>
<rect x="226" y="643" width="1" height="31" fill="#c0c0c0"/>
<rect x="234" y="643" width="1" height="30" fill="#c0c0c0"/>
<rect x="242" y="643" width="1" height="32" fill="#c0c0c0"/>
<rect x="250" y="643" width="1" height="33" fill="#c0c0c0"/>
<rect x="258" y="643" width="1" height="34" fill="#c0c0c0"/>
<rect x="266" y="643" width="1" height="36" fill="#c0c0c0"/>
<rect x="274" y="643" width="1" height="38" fill="#c0c0c0"/>
<rect x="282" y="643" width="1" height="37" fill="#c0c0c0"/>
<rect x="290" y="643" width="1" height="31" fill="#c0c0c0"/>
<rect x="298" y="643" width="1" height="25" fill="#c0c0c0"/>
<rect x="306" y="643" width="1" height="21" fill="#c0c0c0"/>
<rect x="314" y="643" width="1" height="16" fill="#c0c0c0"/>
<rect x="322" y="643" width="1" height="12" fill="#c0c0c0"/>
<rect x="330" y="643" width="1" height="13" fill="#c0c0c0"/>
<rect x="338" y="643" width="1" height="16" fill="#c0c0c0"/>
<rect x="346" y="643" width="1" height="22" fill="#c0c0c0"/>
<rect x="354" y="643" width="1" height="26" fill="#c0c0c0"/>
<rect x="362" y="643" width="1" height="28" fill="#c0c0c0"/>
<rect x="370" y="643" width="1" height="30" fill="#c0c0c0"/>
<rect x="378" y="643" width="1" height="30" fill="#c0c0c0"/>
<rect x="386" y="643" width="1" height="23" fill="#c0c0c0"/>
<rect x="394" y="643" width="1" height="16" fill="#c0c0c0"/>
<rect x="402" y="643" width="1" height="12" fill="#c0c0c0"/>
<rect x="410" y="643" width="1" height="10" fill="#c0c0c0"/>
<rect x="418" y="643" width="1" height="8" fill="#c0c0c0"/>
<rect x="426" y="643" width="1" height="4" fill="#c0c0c0"/>
<rect x="434" y="643" width="1" height="4" fill="#c0c0c0"/>
<rect x="442" y="643" width="1" height="6" fill="#c0c0c0"/>
<rect x="450" y="643" width="1" height="6" fill="#c0c0c0"/>
<rect x="458" y="643" width="1" height="8" fill="#c0c0c0"/>
<rect x="466" y="643" width="1" height="16" fill="#c0c0c0"/>
<rect x="474" y="643" width="1" height="22" fill="#c0c0c0"/>
<rect x="482" y="643" width="1" height="34" fill="#c0c0c0"/>
<rect x="490" y="643" width="1" height="43" fill="#c0c0c0"/>
<rect x="498" y="643" width="1" height="48" fill="#c0c0c0"/>
<rect x="506" y="643" width="1" height="52" fill="#c0c0c0"/>
<rect x="514" y="643" width="1" height="55" fill="#c0c0c0"/>
<rect x="522" y="643" width="1" height="53" fill="#c0c0c0"/>
<rect x="530" y="643" width="1" height="53" fill="#c0c0c0"/>
<rect x="538" y="643" width="1" height="52" fill="#c0c0c0"/>
<rect x="546" y="643" width="1" height="52" fill="#c0c0c0"/>
<rect x="554" y="643" width="1" height="56" fill="#c0c0c0"/>
<rect x="562" y="643" width="1" height="60" fill="#c0c0c0"/>
<rect x="570" y="643" width="1" height="66" fill="#c0c0c0"/>
<rect x="578" y="643" width="1" height="72" fill="#c0c0c0"/>
<rect x="586" y="643" width="1" height="80" fill="#c0c0c0"/>
<rect x="594" y="643" width="1" height="88" fill="#c0c0c0"/>
<rect x="602" y="643" width="1" height="93" fill="#c0c0c0"/>
<rect x="610" y="643" width="1" height="96" fill="#c0c0c0"/>
<rect x="618" y="643" width="1" height="100" fill="#c0c0c0"/>
<rect x="626" y="643" width="1" height="98" fill="#c0c0c0"/>
<rect x="634" y="643" width="1" height="97" fill="#c0c0c0"/>
<rect x="642" y="643" width="1" height="95" fill="#c0c0c0"/>
<rect x="650" y="643" width="1" height="88" fill="#c0c0c0"/>
<rect x="658" y="643" width="1" height="83" fill="#c0c0c0"/>
<rect x="666" y="643" width="1" height="72" fill="#c0c0c0"/>
<rect x="674" y="643" width="1" height="57" fill="#c0c0c0"/>
<rect x="682" y="643" width="1" height="44" fill="#c0c0c0"/>
<rect x="690" y="643" width="1" height="33" fill="#c0c0c0"/>
<rect x="698" y="643" width="1" height="25" fill="#c0c0c0"/>
<rect x="706" y="643" width="1" height="18" fill="#c0c0c0"/>
<rect x="714" y="643" width="1" height="13" fill="#c0c0c0"/>
<rect x="722" y="643" width="1" height="10" fill="#c0c0c0"/>
<rect x="730" y="643" width="1" height="4" fill="#c0c0c0"/>
<rect x="738" y="643" width="1" height="2" fill="#c0c0c0"/>
<rect x="746" y="642" width="1" height="2" fill="#c0c0c0"/>
<rect x="754" y="641" width="1" height="3" fill="#c0c0c0"/>
<rect x="762" y="640" width="1" height="4" fill="#c0c0c0"/>
<rect x="770" y="639" width="1" height="5" fill="#c0c0c0"/>
<rect x="778" y="632" width="1" height="12" fill="#c0c0c0"/>
<rect x="786" y="626" width="1" height="18" fill="#c0c0c0"/>
<rect x="794" y="624" width="1" height="20" fill="#c0c0c0"/>
<rect x="802" y="623" width="1" height="21" fill="#c0c0c0"/>
<rect x="810" y="624" width="1" height="20" fill="#c0c0c0"/>
<rect x="818" y="629" width="1" height="15" fill="#c0c0c0"/>
<rect x="826" y="635" width="1" height="9" fill="#c0c0c0"/>
<rect x="834" y="639" width="1" height="5" fill="#c0c0c0"/>
<rect x="842" y="642" width="1" height="2" fill="#c0c0c0"/>
<rect x="850" y="643" width="1" height="2" fill="#c0c0c0"/>
<rect x="858" y="643" width="1" height="1" fill="#c0c0c0"/>
<rect x="866" y="636" width="1" height="8" fill="#c0c0c0"/>
<rect x="874" y="630" width="1" height="14" fill="#c0c0c0"/>
<rect x="882" y="626" width="1" height="18" fill="#c0c0c0"/>
<rect x="890" y="623" width="1" height="21" fill="#c0c0c0"/>
<rect x="898" y="621" width="1" height="23" fill="#c0c0c0"/>
<rect x="906" y="620" width="1" height="24" fill="#c0c0c0"/>
<rect x="914" y="620" width="1" height="24" fill="#c0c0c0"/>
<rect x="922" y="620" width="1" height="24" fill="#c0c0c0"/>
<rect x="930" y="621" width="1" height="23" fill="#c0c0c0"/>
<rect x="938" y="619" width="1" height="25" fill="#c0c0c0"/>
<rect x="946" y="617" width="1" height="27" fill="#c0c0c0"/>
<rect x="954" y="614" width="1" height="30" fill="#c0c0c0"/>
<rect x="962" y="619" width="1" height="25" fill="#c0c0c0"/>
<rect x="970" y="623" width="1" height="21" fill="#c0c0c0"/>
<rect x="978" y="626" width="1" height="18" fill="#c0c0c0"/>
<rect x="986" y="630" width="1" height="14" fill="#c0c0c0"/>
<rect x="994" y="631" width="1" height="13" fill="#c0c0c0"/>
<rect x="1002" y="632" width="1" height="12" fill="#c0c0c0"/>
<rect x="1010" y="628" width="1" height="16" fill="#c0c0c0"/>
<rect x="1018" y="628" width="1" height="16" fill="#c0c0c0"/>
<rect x="1026" y="628" width="1" height="16" fill="#c0c0c0"/>
<rect x="1034" y="627" width="1" height="17" fill="#c0c0c0"/>
<rect x="1042" y="625" width="1" height="19" fill="#c0c0c0"/>
<rect x="1050" y="623" width="1" height="21" fill="#c0c0c0"/>
<rect x="1058" y="617" width="1" height="27" fill="#c0c0c0"/>
<rect x="1066" y="610" width="1" height="34" fill="#c0c0c0"/>
<rect x="1074" y="606" width="1" height="38" fill="#c0c0c0"/>
<rect x="1082" y="603" width="1" height="41" fill="#c0c0c0"/>
<rect x="1090" y="602" width="1" height="42" fill="#c0c0c0"/>
<rect x="1098" y="601" width="1" height="43" fill="#c0c0c0"/>
<rect x="1106" y="597" width="1" height="47" fill="#c0c0c0"/>
<rect x="1114" y="591" width="1" height="53" fill="#c0c0c0"/>
<rect x="1122" y="590" width="1" height="54" fill="#c0c0c0"/>
<rect x="1130" y="591" width="1" height="53" fill="#c0c0c0"/>
<rect x="1138" y="594" width="1" height="50" fill="#c0c0c0"/>
<rect x="1146" y="597" width="1" height="47" fill="#c0c0c0"/>
<rect x="1154" y="602" width="1" height="42" fill="#c0c0c0"/>
<rect x="1162" y="605" width="1" height="39" fill="#c0c0c0"/>
<rect x="1170" y="607" width="1" height="37" fill="#c0c0c0"/>
<rect x="1178" y="608" width="1" height="36" fill="#c0c0c0"/>
<rect x="1186" y="612" width="1" height="32" fill="#c0c0c0"/>
<rect x="1194" y="624" width="1" height="20" fill="#c0c0c0"/>
<rect x="1202" y="631" width="1" height="13" fill="#c0c0c0"/>
<rect x="1210" y="638" width="1" height="6" fill="#c0c0c0"/>
<rect x="1218" y="643" width="1" height="2" fill="#c0c0c0"/>
<rect x="1226" y="643" width="1" height="5" fill="#c0c0c0"/>
<rect x="1234" y="643" width="1" height="10" fill="#c0c0c0"/>
<rect x="1242" y="643" width="1" height="15" fill="#c0c0c0"/>
<rect x="1250" y="643" width="1" height="18" fill="#c0c0c0"/>
<rect x="1258" y="643" width="1" height="20" fill="#c0c0c0"/>
<rect x="1266" y="643" width="1" height="21" fill="#c0c0c0"/>
<rect x="1274" y="643" width="1" height="23" fill="#c0c0c0"/>
<rect x="1282" y="643" width="1" height="20" fill="#c0c0c0"/>
<rect x="1290" y="643" width="1" height="11" fill="#c0c0c0"/>
<rect x="1298" y="643" width="1" height="1" fill="#c0c0c0"/>
<rect x="1306" y="638" width="1" height="6" fill="#c0c0c0"/>
<rect x="1314" y="633" width="1" height="11" fill="#c0c0c0"/>
<rect x="1322" y="628" width="1" height="16" fill="#c0c0c0"/>
<rect x="1330" y="620" width="1" height="24" fill="#c0c0c0"/>
<rect x="1338" y="613" width="1" height="31" fill="#c0c0c0"/>
<rect x="1346" y="615" width="1" height="29" fill="#c0c0c0"/>
<rect x="1354" y="618" width="1" height="26" fill="#c0c0c0"/>
<rect x="1362" y="619" width="1" height="25" fill="#c0c0c0"/>
<rect x="1370" y="620" width="1" height="24" fill="#c0c0c0"/>
<rect x="1378" y="625" width="1" height="19" fill="#c0c0c0"/>
<rect x="1386" y="628" width="1" height="16" fill="#c0c0c0"/>
<rect x="1394" y="627" width="1" height="17" fill="#c0c0c0"/>
<rect x="1402" y="627" width="1" height="17" fill="#c0c0c0"/>
<rect x="1410" y="627" width="1" height="17" fill="#c0c0c0"/>
<rect x="1418" y="626" width="1" height="18" fill="#c0c0c0"/>
<rect x="1426" y="623" width="1" height="21" fill="#c0c0c0"/>
<rect x="1434" y="623" width="1" height="21" fill="#c0c0c0"/>
<rect x="1442" y="624" width="1" height="20" fill="#c0c0c0"/>
<rect x="1450" y="632" width="1" height="12" fill="#c0c0c0"/>
<rect x="1458" y="638" width="1" height="6" fill="#c0c0c0"/>
<rect x="1466" y="642" width="1" height="2" fill="#c0c0c0"/>
</g>
<polyline fill="none" stroke="#ff0000" stroke-width="1" points="0.0,617.2 12.5,621.0 25.0,624.2 67.5,624.8 80.0,628.0 105.0,631.2 122.5,633.0 150.0,633.5 162.5,636.8 175.0,641.8 187.5,645.0 200.0,651.8 215.0,660.5 232.5,666.0 250.0,669.8 267.5,673.5 282.5,676.2 300.0,675.0 317.5,671.8 330.0,668.5 340.0,664.8 355.0,662.5 375.0,662.5 392.5,665.5 405.0,665.0 424.8,661.0 437.5,656.2 450.0,652.2 465.0,650.5 477.5,652.5 487.5,656.8 500.0,664.2 512.5,673.0 525.0,681.0 537.5,688.0 550.0,692.5 562.5,696.0 575.0,699.2 587.5,703.8 600.0,709.8 612.5,718.0 625.0,725.5 637.5,731.2 650.0,735.0 662.5,735.0 675.0,730.0 687.5,719.2 700.0,706.2 712.5,691.8 725.0,678.0 737.5,664.2 750.0,656.0 762.5,648.8 775.0,644.2 787.5,640.0 800.0,635.0 815.0,630.5 830.0,629.2 840.0,630.5 849.8,631.2 865.0,635.0 880.0,635.5 900.0,633.5 915.0,628.0 932.5,623.0 950.0,620.0 962.5,618.0 980.0,619.2 1000.0,622.2 1012.5,624.8 1035.0,627.5 1055.0,626.8 1067.5,623.0 1085.0,616.2 1100.0,610.5 1115.0,604.2 1130.0,598.5 1142.5,596.0 1160.0,595.5 1175.0,596.8 1190.0,601.0 1205.0,609.8 1217.5,618.0 1230.0,625.5 1242.5,634.2 1255.0,643.5 1274.8,653.0 1285.0,658.4 1297.5,658.4 1309.9,655.4 1324.9,647.9 1337.4,639.9 1349.9,630.4 1362.3,623.4 1374.8,619.9 1387.3,618.4 1399.8,618.4 1409.8,620.4 1419.7,622.9 1434.7,623.7 1449.7,625.9 1466.2,628.7" stroke-dasharray="3 3" shape-rendering="crispEdges"/>
</g>
<line x1="1343.6" y1="615.5" x2="1467.2" y2="638.4" stroke="#ff0000" stroke-width="3.3"/>
<polygon fill="#ff0000" points="1477.0,640.2 1464.2,643.4 1467.7,638.5 1466.2,632.6"/>
<text x="-1" y="593.3" font-size="10" fill="#000" textLength="146.5" lengthAdjust="spacingAndGlyphs" stroke="#000" stroke-width="0.2">MACD(12,26,9) 0.000117 0.000761</text>
<g shape-rendering="crispEdges">
<rect x="1653" y="582" width="2" height="1" fill="#000"/>
<rect x="1653" y="643" width="2" height="1" fill="#000"/>
<rect x="1653" y="748" width="2" height="1" fill="#000"/>
</g>
<text x="1656.5" y="591" font-size="10" fill="#000" textLength="38" lengthAdjust="spacingAndGlyphs" stroke="#000" stroke-width="0.2">0.003243</text>
<text x="1656.5" y="647.2" font-size="10" fill="#000" textLength="17.5" lengthAdjust="spacingAndGlyphs" stroke="#000" stroke-width="0.2">0.00</text>
<text x="1656.5" y="746.8" font-size="10" fill="#000" textLength="41" lengthAdjust="spacingAndGlyphs" stroke="#000" stroke-width="0.2">-0.005616</text>
<g clip-path="url(#cr)">
<g shape-rendering="crispEdges">
<line x1="1" y1="788.5" x2="1652" y2="788.5" stroke="#c0c0c0" stroke-width="1" stroke-dasharray="3 3"/>
<line x1="1" y1="839.5" x2="1652" y2="839.5" stroke="#c0c0c0" stroke-width="1" stroke-dasharray="3 3"/>
<line x1="1" y1="900.5" x2="1652" y2="900.5" stroke="#c0c0c0" stroke-width="1" stroke-dasharray="3 3"/>
</g>
<polyline fill="none" stroke="#1e90ff" stroke-width="1" points="2.5,836.2 10.5,830.5 18.5,832.5 26.5,828.2 34.5,821.5 42.5,830.0 50.5,838.0 58.5,848.2 66.5,847.5 74.5,846.2 82.5,830.5 90.5,830.5 98.5,829.2 106.5,827.5 114.5,830.5 122.5,833.2 130.5,834.5 138.5,836.2 146.5,860.0 154.5,858.2 162.5,861.2 170.5,860.0 178.5,861.2 186.5,854.5 194.5,865.0 202.5,867.0 210.5,867.0 218.5,865.8 226.5,861.8 234.5,854.2 242.5,866.0 250.5,867.0 258.5,867.0 266.5,870.5 274.5,875.0 282.5,863.0 290.5,838.2 298.5,835.5 306.5,838.2 314.5,833.2 322.5,831.2 330.5,849.2 338.5,857.5 346.5,867.0 354.5,863.8 362.5,862.0 370.5,864.2 378.5,857.5 386.5,835.5 394.5,829.5 402.5,832.5 410.5,838.2 418.5,837.0 426.5,831.2 434.5,841.2 442.5,845.8 450.5,845.0 458.5,856.8 466.5,863.8 474.5,867.5 482.5,882.5 490.5,881.2 498.5,880.0 506.5,871.2 514.5,875.0 522.5,857.5 530.5,865.0 538.5,859.2 546.5,863.8 554.5,871.2 562.5,877.0 570.5,880.0 578.5,882.0 586.5,888.8 594.5,890.5 602.5,890.5 610.5,892.5 618.5,893.8 626.5,883.2 634.5,884.2 642.5,882.0 650.5,865.5 658.5,865.0 666.5,847.5 674.5,831.2 682.5,827.0 690.5,829.2 698.5,832.0 706.5,832.0 714.5,830.0 722.5,834.2 730.5,826.2 738.5,830.0 746.5,834.2 754.5,834.2 762.5,836.2 770.5,832.0 778.5,814.2 786.5,812.0 794.5,820.8 802.5,824.2 810.5,833.2 818.5,845.0 826.5,851.2 834.5,851.2 842.5,852.5 850.5,840.0 858.5,838.0 866.5,816.2 874.5,816.2 882.5,820.5 890.5,817.5 898.5,818.8 906.5,824.2 914.5,825.5 922.5,824.2 930.5,825.5 938.5,816.2 946.5,812.0 954.5,810.5 962.5,840.5 970.5,839.2 978.5,837.5 986.5,846.2 994.5,835.8 1002.5,834.2 1010.5,819.2 1018.5,831.2 1026.5,830.5 1034.5,829.2 1042.5,821.2 1050.5,821.2 1058.5,808.2 1066.5,804.2 1074.5,804.2 1082.5,805.5 1090.5,813.8 1098.5,810.0 1106.5,800.8 1114.5,795.5 1122.5,810.0 1130.5,814.2 1138.5,823.8 1146.5,820.5 1154.5,831.2 1162.5,828.2 1170.5,826.2 1178.5,822.5 1186.5,832.5 1194.5,858.2 1202.5,850.5 1210.5,853.2 1218.5,854.2 1226.5,854.5 1234.5,860.5 1242.5,857.5 1250.5,860.5 1258.5,852.0 1266.5,856.2 1274.5,857.5 1282.5,841.1 1290.5,819.9 1298.5,815.6 1306.5,823.1 1314.5,823.1 1322.5,819.1 1330.5,811.1 1338.5,808.1 1346.5,828.1 1354.5,829.4 1362.5,832.4 1370.5,831.1 1378.5,843.1 1386.5,839.1 1394.5,831.6 1402.5,835.4 1410.5,834.1 1418.5,829.9 1426.5,818.1 1434.5,829.9 1442.5,833.6 1450.5,850.3 1458.5,850.3 1466.5,850.3" shape-rendering="crispEdges"/>
</g>
<line x1="1333.6" y1="815.5" x2="1456.7" y2="839.3" stroke="#ff0000" stroke-width="3.3"/>
<polygon fill="#ff0000" points="1466.5,841.2 1453.7,844.3 1457.2,839.4 1455.8,833.5"/>
<text x="-1" y="765.3" font-size="10" fill="#000" textLength="67" lengthAdjust="spacingAndGlyphs" stroke="#000" stroke-width="0.2">RSI(14) 44.0156</text>
<g shape-rendering="crispEdges">
<rect x="1653" y="754" width="2" height="1" fill="#000"/>
<rect x="1653" y="788" width="2" height="1" fill="#000"/>
<rect x="1653" y="839" width="2" height="1" fill="#000"/>
<rect x="1653" y="900" width="2" height="1" fill="#000"/>
<rect x="1653" y="923" width="2" height="1" fill="#000"/>
</g>
<text x="1656.5" y="763" font-size="10" fill="#000" textLength="15.5" lengthAdjust="spacingAndGlyphs" stroke="#000" stroke-width="0.2">100</text>
<text x="1656.5" y="792.2" font-size="10" fill="#000" textLength="10" lengthAdjust="spacingAndGlyphs" stroke="#000" stroke-width="0.2">80</text>
<text x="1656.5" y="843" font-size="10" fill="#000" textLength="10" lengthAdjust="spacingAndGlyphs" stroke="#000" stroke-width="0.2">50</text>
<text x="1656.5" y="904" font-size="10" fill="#000" textLength="10" lengthAdjust="spacingAndGlyphs" stroke="#000" stroke-width="0.2">15</text>
<text x="1656.5" y="923.2" font-size="10" fill="#000" stroke="#000" stroke-width="0.2">0</text>
<g shape-rendering="crispEdges">
<rect x="58" y="927" width="1" height="3" fill="#000"/>
<rect x="122" y="927" width="1" height="3" fill="#000"/>
<rect x="186" y="927" width="1" height="3" fill="#000"/>
<rect x="250" y="927" width="1" height="3" fill="#000"/>
<rect x="314" y="927" width="1" height="3" fill="#000"/>
<rect x="378" y="927" width="1" height="3" fill="#000"/>
<rect x="442" y="927" width="1" height="3" fill="#000"/>
<rect x="506" y="927" width="1" height="3" fill="#000"/>
<rect x="570" y="927" width="1" height="3" fill="#000"/>
<rect x="634" y="927" width="1" height="3" fill="#000"/>
<rect x="698" y="927" width="1" height="3" fill="#000"/>
<rect x="762" y="927" width="1" height="3" fill="#000"/>
<rect x="826" y="927" width="1" height="3" fill="#000"/>
<rect x="890" y="927" width="1" height="3" fill="#000"/>
<rect x="954" y="927" width="1" height="3" fill="#000"/>
<rect x="1018" y="927" width="1" height="3" fill="#000"/>
<rect x="1082" y="927" width="1" height="3" fill="#000"/>
<rect x="1146" y="927" width="1" height="3" fill="#000"/>
<rect x="1210" y="927" width="1" height="3" fill="#000"/>
<rect x="1274" y="927" width="1" height="3" fill="#000"/>
<rect x="1338" y="927" width="1" height="3" fill="#000"/>
<rect x="1402" y="927" width="1" height="3" fill="#000"/>
<rect x="1466" y="927" width="1" height="3" fill="#000"/>
</g>
<text x="2" y="939" font-size="10" fill="#000" textLength="39" lengthAdjust="spacingAndGlyphs" stroke="#000" stroke-width="0.2">Aug 2021</text>
<text x="57" y="939" font-size="10" fill="#000" textLength="51" lengthAdjust="spacingAndGlyphs" stroke="#000" stroke-width="0.2">4 Aug 16:00</text>
<text x="121" y="939" font-size="10" fill="#000" textLength="51" lengthAdjust="spacingAndGlyphs" stroke="#000" stroke-width="0.2">6 Aug 00:00</text>
<text x="185" y="939" font-size="10" fill="#000" textLength="51" lengthAdjust="spacingAndGlyphs" stroke="#000" stroke-width="0.2">9 Aug 08:00</text>
<text x="249" y="939" font-size="10" fill="#000" textLength="54.5" lengthAdjust="spacingAndGlyphs" stroke="#000" stroke-width="0.2">10 Aug 16:00</text>
<text x="313" y="939" font-size="10" fill="#000" textLength="54.5" lengthAdjust="spacingAndGlyphs" stroke="#000" stroke-width="0.2">12 Aug 00:00</text>
<text x="377" y="939" font-size="10" fill="#000" textLength="54.5" lengthAdjust="spacingAndGlyphs" stroke="#000" stroke-width="0.2">13 Aug 08:00</text>
<text x="441" y="939" font-size="10" fill="#000" textLength="54.5" lengthAdjust="spacingAndGlyphs" stroke="#000" stroke-width="0.2">16 Aug 16:00</text>
<text x="505" y="939" font-size="10" fill="#000" textLength="54.5" lengthAdjust="spacingAndGlyphs" stroke="#000" stroke-width="0.2">18 Aug 00:00</text>
<text x="569" y="939" font-size="10" fill="#000" textLength="54.5" lengthAdjust="spacingAndGlyphs" stroke="#000" stroke-width="0.2">19 Aug 08:00</text>
<text x="633" y="939" font-size="10" fill="#000" textLength="54.5" lengthAdjust="spacingAndGlyphs" stroke="#000" stroke-width="0.2">20 Aug 16:00</text>
<text x="697" y="939" font-size="10" fill="#000" textLength="54.5" lengthAdjust="spacingAndGlyphs" stroke="#000" stroke-width="0.2">24 Aug 00:00</text>
<text x="761" y="939" font-size="10" fill="#000" textLength="54.5" lengthAdjust="spacingAndGlyphs" stroke="#000" stroke-width="0.2">25 Aug 08:00</text>
<text x="825" y="939" font-size="10" fill="#000" textLength="54.5" lengthAdjust="spacingAndGlyphs" stroke="#000" stroke-width="0.2">26 Aug 16:00</text>
<text x="889" y="939" font-size="10" fill="#000" textLength="54.5" lengthAdjust="spacingAndGlyphs" stroke="#000" stroke-width="0.2">30 Aug 00:00</text>
<text x="953" y="939" font-size="10" fill="#000" textLength="54.5" lengthAdjust="spacingAndGlyphs" stroke="#000" stroke-width="0.2">31 Aug 08:00</text>
<text x="1017" y="939" font-size="10" fill="#000" textLength="51" lengthAdjust="spacingAndGlyphs" stroke="#000" stroke-width="0.2">1 Sep 16:00</text>
<text x="1081" y="939" font-size="10" fill="#000" textLength="51" lengthAdjust="spacingAndGlyphs" stroke="#000" stroke-width="0.2">3 Sep 00:00</text>
<text x="1145" y="939" font-size="10" fill="#000" textLength="51" lengthAdjust="spacingAndGlyphs" stroke="#000" stroke-width="0.2">6 Sep 08:00</text>
<text x="1209" y="939" font-size="10" fill="#000" textLength="51" lengthAdjust="spacingAndGlyphs" stroke="#000" stroke-width="0.2">7 Sep 16:00</text>
<text x="1273" y="939" font-size="10" fill="#000" textLength="51" lengthAdjust="spacingAndGlyphs" stroke="#000" stroke-width="0.2">9 Sep 00:00</text>
<text x="1337" y="939" font-size="10" fill="#000" textLength="54.5" lengthAdjust="spacingAndGlyphs" stroke="#000" stroke-width="0.2">10 Sep 08:00</text>
<text x="1401" y="939" font-size="10" fill="#000" textLength="54.5" lengthAdjust="spacingAndGlyphs" stroke="#000" stroke-width="0.2">13 Sep 16:00</text>
<text x="1465" y="939" font-size="10" fill="#000" textLength="54.5" lengthAdjust="spacingAndGlyphs" stroke="#000" stroke-width="0.2">14 Sep 22:00</text>
<g id="oct">
<rect x="0" y="45" width="217" height="59" fill="#ffffff" shape-rendering="crispEdges"/>
<rect x="0" y="45" width="49" height="25" fill="url(#gs)" shape-rendering="crispEdges"/>
<rect x="164" y="45" width="52" height="25" fill="url(#gs)" shape-rendering="crispEdges"/>
<rect x="0" y="69" width="106" height="33" fill="url(#gp)" shape-rendering="crispEdges"/>
<rect x="108" y="69" width="108" height="33" fill="url(#gp)" shape-rendering="crispEdges"/>
<rect x="0" y="45" width="49" height="1" fill="#e03c3c" shape-rendering="crispEdges"/>
<rect x="164" y="45" width="52" height="1" fill="#e03c3c" shape-rendering="crispEdges"/>
<rect x="1" y="68" width="44" height="1" fill="#900000" shape-rendering="crispEdges"/>
<rect x="168" y="68" width="44" height="1" fill="#900000" shape-rendering="crispEdges"/>
<rect x="1" y="69" width="44" height="1" fill="#f07878" shape-rendering="crispEdges"/>
<rect x="168" y="69" width="44" height="1" fill="#f07878" shape-rendering="crispEdges"/>
<path d="M0.500 69V45.500H48.500V69M164.500 69V45.500H215.500V101.500" fill="none" stroke="#c81818" stroke-width="1" shape-rendering="crispEdges"/>
<rect x="0" y="101" width="106" height="1" fill="#a00000" shape-rendering="crispEdges"/>
<rect x="108" y="101" width="108" height="1" fill="#a00000" shape-rendering="crispEdges"/>
<rect x="51.5" y="45.5" width="110" height="21" fill="#fff" stroke="#a8a8b0" stroke-width="1" shape-rendering="crispEdges"/>
<rect x="53" y="47" width="19" height="19" fill="url(#gb)" shape-rendering="crispEdges"/>
<rect x="141" y="47" width="20" height="19" fill="url(#gb)" shape-rendering="crispEdges"/>
<rect x="72" y="46" width="1" height="21" fill="#b8b8c0" shape-rendering="crispEdges"/>
<rect x="140" y="46" width="1" height="21" fill="#b8b8c0" shape-rendering="crispEdges"/>
<polygon points="59,54 64,54 61.5,57" fill="#5060c0"/>
<polygon points="148,57 153,57 150.5,54" fill="#5060c0"/>
<text x="136.5" y="60" font-size="12.5" fill="#000" text-anchor="end">1.00</text>
<text x="9.5" y="60.5" font-size="12" fill="#fff" textLength="26" lengthAdjust="spacingAndGlyphs">SELL</text>
<text x="177" y="60.5" font-size="12" fill="#fff" textLength="24" lengthAdjust="spacingAndGlyphs">BUY</text>
<text x="17.5" y="97" font-size="12" fill="#fff" textLength="24" lengthAdjust="spacingAndGlyphs" font-weight="bold">1.38</text>
<text x="44" y="97" font-size="33" fill="#fff" textLength="36" lengthAdjust="spacingAndGlyphs" stroke="#c62222" stroke-width="0.7">06</text>
<text x="84" y="81" font-size="11.5" fill="#fff" font-weight="bold">8</text>
<text x="127.5" y="97" font-size="12" fill="#fff" textLength="24" lengthAdjust="spacingAndGlyphs" font-weight="bold">1.38</text>
<text x="154.5" y="97" font-size="33" fill="#fff" textLength="36" lengthAdjust="spacingAndGlyphs" stroke="#c62222" stroke-width="0.7">09</text>
<text x="195" y="81" font-size="11.5" fill="#fff" font-weight="bold">1</text>
</g>
<g id="toolbar">
<rect x="0" y="0" width="1699" height="21" fill="#f0f0f0" shape-rendering="crispEdges"/>
<rect x="0" y="21" width="1699" height="1" fill="#a8a8a8" shape-rendering="crispEdges"/>
<rect x="0" y="22" width="1699" height="1" fill="#6e6e6e" shape-rendering="crispEdges"/>
<rect x="0" y="23" width="1699" height="2" fill="#ffffff" shape-rendering="crispEdges"/>
<rect x="13" y="1" width="1" height="18" fill="#a0a0a0" shape-rendering="crispEdges"/>
<rect x="249" y="1" width="1" height="18" fill="#a0a0a0" shape-rendering="crispEdges"/>
<rect x="287" y="1" width="1" height="18" fill="#a0a0a0" shape-rendering="crispEdges"/>
<rect x="344" y="1" width="1" height="18" fill="#a0a0a0" shape-rendering="crispEdges"/>
<rect x="434" y="1" width="1" height="18" fill="#a0a0a0" shape-rendering="crispEdges"/>
<rect x="467" y="1" width="1" height="18" fill="#a0a0a0" shape-rendering="crispEdges"/>
<rect x="496" y="1" width="1" height="18" fill="#a0a0a0" shape-rendering="crispEdges"/>
<rect x="617" y="1" width="1" height="18" fill="#a0a0a0" shape-rendering="crispEdges"/>
<rect x="684" y="1" width="1" height="18" fill="#a0a0a0" shape-rendering="crispEdges"/>
<rect x="923" y="1" width="1" height="18" fill="#a0a0a0" shape-rendering="crispEdges"/>
<rect x="1073" y="1" width="1" height="18" fill="#a0a0a0" shape-rendering="crispEdges"/>
<rect x="1184" y="1" width="1" height="18" fill="#a0a0a0" shape-rendering="crispEdges"/>
<rect x="253" y="3" width="3" height="1" fill="#b8b8b8" shape-rendering="crispEdges"/>
<rect x="253" y="5" width="3" height="1" fill="#b8b8b8" shape-rendering="crispEdges"/>
<rect x="253" y="7" width="3" height="1" fill="#b8b8b8" shape-rendering="crispEdges"/>
<rect x="253" y="9" width="3" height="1" fill="#b8b8b8" shape-rendering="crispEdges"/>
<rect x="253" y="11" width="3" height="1" fill="#b8b8b8" shape-rendering="crispEdges"/>
<rect x="253" y="13" width="3" height="1" fill="#b8b8b8" shape-rendering="crispEdges"/>
<rect x="253" y="15" width="3" height="1" fill="#b8b8b8" shape-rendering="crispEdges"/>
<rect x="253" y="17" width="3" height="1" fill="#b8b8b8" shape-rendering="crispEdges"/>
<rect x="620" y="3" width="3" height="1" fill="#b8b8b8" shape-rendering="crispEdges"/>
<rect x="620" y="5" width="3" height="1" fill="#b8b8b8" shape-rendering="crispEdges"/>
<rect x="620" y="7" width="3" height="1" fill="#b8b8b8" shape-rendering="crispEdges"/>
<rect x="620" y="9" width="3" height="1" fill="#b8b8b8" shape-rendering="crispEdges"/>
<rect x="620" y="11" width="3" height="1" fill="#b8b8b8" shape-rendering="crispEdges"/>
<rect x="620" y="13" width="3" height="1" fill="#b8b8b8" shape-rendering="crispEdges"/>
<rect x="620" y="15" width="3" height="1" fill="#b8b8b8" shape-rendering="crispEdges"/>
<rect x="620" y="17" width="3" height="1" fill="#b8b8b8" shape-rendering="crispEdges"/>
<rect x="926" y="3" width="3" height="1" fill="#b8b8b8" shape-rendering="crispEdges"/>
<rect x="926" y="5" width="3" height="1" fill="#b8b8b8" shape-rendering="crispEdges"/>
<rect x="926" y="7" width="3" height="1" fill="#b8b8b8" shape-rendering="crispEdges"/>
<rect x="926" y="9" width="3" height="1" fill="#b8b8b8" shape-rendering="crispEdges"/>
<rect x="926" y="11" width="3" height="1" fill="#b8b8b8" shape-rendering="crispEdges"/>
<rect x="926" y="13" width="3" height="1" fill="#b8b8b8" shape-rendering="crispEdges"/>
<rect x="926" y="15" width="3" height="1" fill="#b8b8b8" shape-rendering="crispEdges"/>
<rect x="926" y="17" width="3" height="1" fill="#b8b8b8" shape-rendering="crispEdges"/>
<rect x="289" y="0" width="22" height="20" fill="#f8f8f8" shape-rendering="crispEdges"/>
<rect x="440" y="0" width="24" height="20" fill="#f8f8f8" shape-rendering="crispEdges"/>
<rect x="469" y="0" width="22" height="20" fill="#f8f8f8" shape-rendering="crispEdges"/>
<rect x="628" y="0" width="23" height="20" fill="#f8f8f8" shape-rendering="crispEdges"/>
<rect x="1074" y="0" width="23" height="20" fill="#f8f8f8" shape-rendering="crispEdges"/>
<line x1="0" y1="14" x2="4" y2="18" stroke="#c8a030" stroke-width="3"/>
<circle cx="-1" cy="9" r="4" fill="#d8ecff" stroke="#7090c0" stroke-width="1.5"/>
<path d="M24.5 2.5h8l3 3v10h-11z" fill="#fff" stroke="#707070"/>
<path d="M26 6h5M26 8.5h7M26 11h5" stroke="#909090" stroke-width="1"/>
<path d="M32 9h4v3.5h3.500v4h-3.500v3.500h-4v-3.500h-3.500v-4h3.500z" fill="#22c022" stroke="#0a8a0a" stroke-width="0.8"/>
<text x="41" y="13" font-size="12.3" fill="#000" stroke="#000" stroke-width="0.3" textLength="37" lengthAdjust="spacingAndGlyphs">新订单</text>
<path d="M90.500 11l5.500-8 10 5.500-6 8.500z" fill="#e8b830" stroke="#a87808" stroke-width="1"/>
<path d="M90.500 11.500l9.500 5.500 6-8" fill="none" stroke="#8a6400" stroke-width="1.600"/>
<rect x="121" y="2.500" width="10" height="9" fill="#3c8ce0" stroke="#2060b0"/>
<path d="M123 5h6M123 7.500h6" stroke="#d0e8ff" stroke-width="1.200"/>
<path d="M119 17.500a3 3 0 0 1 1-5.500a4 4 0 0 1 7-1a3.500 3.500 0 0 1 5 3.500a2 2 0 0 1 -1 3z" fill="#e8f0fa" stroke="#8098c0" stroke-width="1"/>
<circle cx="153.500" cy="9.500" r="7.500" fill="#e4ecf4" stroke="#a8b8d0" stroke-width="1"/>
<circle cx="153.500" cy="9.500" r="4.500" fill="none" stroke="#6088c8" stroke-width="1.300"/>
<circle cx="153.500" cy="9.500" r="1.800" fill="#2860b8"/>
<path d="M153.500 9.500V16.500A7 7 0 0 0 160.500 9.500z" fill="#a8d8a8" opacity="0.8"/>
<path d="M153.500 9.500V16.500A7 7 0 0 0 158.500 14.400" fill="none" stroke="#38a838" stroke-width="1.800"/>
<path d="M174 9.500l7 8 7-8z" fill="#f0c020" stroke="#c09000" stroke-width="0.800"/>
<ellipse cx="181" cy="7.500" rx="8" ry="3.200" fill="#4890d8" stroke="#2868b0" stroke-width="0.800"/>
<ellipse cx="181" cy="5" rx="4.500" ry="3" fill="#58a0e0" stroke="#2868b0" stroke-width="0.800"/>
<circle cx="185.500" cy="13.500" r="4" fill="#e02818" stroke="#a01008" stroke-width="0.800"/>
<rect x="184" y="12" width="3" height="3" fill="#fff"/>
<text x="194.500" y="13" font-size="12.300" fill="#000" stroke="#000" stroke-width="0.3" textLength="47" lengthAdjust="spacingAndGlyphs">自动交易</text>
<path d="M267.5 4v13M265 14.500h13" fill="none" stroke="#505050" stroke-width="1.200"/>
<path d="M265.5 5.500l2-2.500 2 2.500zM276.5 12.500l2.500 2-2.500 2z" fill="#505050"/>
<path d="M271 11.500h2.500v-7h2.500" fill="none" stroke="#28a028" stroke-width="1.400"/>
<path d="M295.5 4v13M293 14.500h13" fill="none" stroke="#505050" stroke-width="1.200"/>
<path d="M293.5 5.500l2-2.500 2 2.500zM304.5 12.500l2.500 2-2.500 2z" fill="#505050"/>
<path d="M301.500 1.500v11.500" stroke="#106010" stroke-width="1"/>
<rect x="299.500" y="3.500" width="4" height="7" fill="#40d040" stroke="#108010"/>
<path d="M323.5 4v13M321 14.500h13" fill="none" stroke="#505050" stroke-width="1.200"/>
<path d="M321.5 5.500l2-2.500 2 2.500zM332.5 12.500l2.500 2-2.500 2z" fill="#505050"/>
<path d="M322.500 11.500c3-6 6.500-6 11-1" fill="none" stroke="#28a028" stroke-width="1.300"/>
<line x1="362" y1="11" x2="367.5" y2="16.500" stroke="#c8a030" stroke-width="2.600" stroke-linecap="round"/>
<circle cx="359" cy="7.500" r="5" fill="#e4f0ff" stroke="#4878c0" stroke-width="1.500"/>
<path d="M356.5 7.500h5" stroke="#2858a8" stroke-width="1.500"/>
<path d="M359 5v5" stroke="#2858a8" stroke-width="1.500"/>
<line x1="390" y1="11" x2="395.5" y2="16.500" stroke="#c8a030" stroke-width="2.600" stroke-linecap="round"/>
<circle cx="387" cy="7.500" r="5" fill="#e4f0ff" stroke="#4878c0" stroke-width="1.500"/>
<path d="M384.5 7.500h5" stroke="#2858a8" stroke-width="1.500"/>
<rect x="409" y="1.5" width="8" height="7.500" fill="#38a028"/>
<rect x="410" y="4.5" width="6" height="3.500" fill="#eef4ff"/>
<rect x="417.5" y="1.5" width="8" height="7.500" fill="#2858c8"/>
<rect x="418.5" y="4.5" width="6" height="3.500" fill="#eef4ff"/>
<rect x="409" y="9.5" width="8" height="7.500" fill="#2858c8"/>
<rect x="410" y="12.5" width="6" height="3.500" fill="#eef4ff"/>
<rect x="417.5" y="9.5" width="8" height="7.500" fill="#38a028"/>
<rect x="418.5" y="12.5" width="6" height="3.500" fill="#eef4ff"/>
<path d="M447.5 4v13M445 14.500h13" fill="none" stroke="#505050" stroke-width="1.200"/>
<path d="M445.5 5.500l2-2.500 2 2.500zM456.5 12.500l2.500 2-2.500 2z" fill="#505050"/>
<polygon points="452,5 452,11 456.500,8" fill="#30b030" stroke="#107010" stroke-width="0.600"/>
<path d="M475.5 4v13M473 14.500h13" fill="none" stroke="#505050" stroke-width="1.200"/>
<path d="M473.5 5.500l2-2.500 2 2.500zM484.5 12.500l2.500 2-2.500 2z" fill="#505050"/>
<path d="M481.500 3v10" fill="none" stroke="#505050" stroke-width="1.200"/>
<polygon points="487,6 487,11 482.500,8.500" fill="#d03020"/>
<path d="M507.500 2.500h7l3 3v9h-10z" fill="#fff" stroke="#707070"/>
<path d="M513 9h4v3.500h3.500v4h-3.500v3.500h-4v-3.500h-3.500v-4h3.500z" fill="#22c022" stroke="#0a8a0a" stroke-width="0.800" transform="translate(0,-1.500)"/>
<polygon points="527.5,8 533,8 530.25,11" fill="#000"/>
<circle cx="552" cy="9.500" r="7.500" fill="#2868c8" stroke="#184890" stroke-width="1"/>
<circle cx="552" cy="9.500" r="5" fill="#f0f4fa"/>
<path d="M552 6v3.500h3" fill="none" stroke="#404040" stroke-width="1"/>
<polygon points="567,8 572.5,8 569.75,11" fill="#000"/>
<rect x="583.500" y="2.500" width="15" height="13" fill="#f4f8ff" stroke="#3870c0" stroke-width="1"/>
<rect x="584" y="3" width="14" height="2.500" fill="#3870c0"/>
<path d="M585.500 9l3-1.500 3 1 3-1.500 3 1" fill="none" stroke="#c03020" stroke-width="1.200"/>
<path d="M585.500 13l3-1.500 3 1 3-1.500 3 1" fill="none" stroke="#30a030" stroke-width="1.200"/>
<polygon points="605.5,8 611,8 608.25,11" fill="#000"/>
<path d="M634.500 2.500v12l3-3 2.500 5 2-1-2.500-5h4z" fill="#404040"/>
<path d="M667.500 2v15M660 9.500h15" fill="none" stroke="#404040" stroke-width="1" shape-rendering="crispEdges"/>
<rect x="666" y="8" width="3" height="3" fill="#f0f0f0"/>
<rect x="701" y="3" width="1" height="13" fill="#404040" shape-rendering="crispEdges"/>
<rect x="724" y="9" width="13" height="1" fill="#404040" shape-rendering="crispEdges"/>
<line x1="751.500" y1="16" x2="764.500" y2="4" stroke="#505050" stroke-width="1.100"/>
<path d="M777.500 12l11-8M779.500 16l11-8M781 7v8M784.500 4.500v8M788 2v8" fill="none" stroke="#505050" stroke-width="1"/>
<text x="788.500" y="18" font-size="7" font-weight="bold" fill="#404040">E</text>
<line x1="806" y1="2.5" x2="820" y2="2.5" stroke="#505050" stroke-width="1" stroke-dasharray="1 1" shape-rendering="crispEdges"/>
<line x1="806" y1="5.5" x2="820" y2="5.5" stroke="#505050" stroke-width="1" stroke-dasharray="1 1" shape-rendering="crispEdges"/>
<line x1="806" y1="8.5" x2="820" y2="8.5" stroke="#505050" stroke-width="1" stroke-dasharray="1 1" shape-rendering="crispEdges"/>
<line x1="806" y1="11.5" x2="820" y2="11.5" stroke="#505050" stroke-width="1" stroke-dasharray="1 1" shape-rendering="crispEdges"/>
<text x="816.500" y="18" font-size="7" font-weight="bold" fill="#404040">F</text>
<text x="837" y="14" font-size="12" font-weight="bold" fill="#505050">A</text>
<rect x="863.500" y="3.500" width="12" height="12" fill="none" stroke="#505050" stroke-width="1" stroke-dasharray="1 1" shape-rendering="crispEdges"/>
<text x="866" y="14" font-size="11" font-weight="bold" fill="#404040">T</text>
<polygon points="894.500,3 898,7 891,7" fill="#404040"/>
<polygon points="901.500,15.500 905,11.500 898,11.500" fill="#404040"/>
<path d="M893 9l2.500 2.500 4-4.500" fill="none" stroke="#404040" stroke-width="1.300"/>
<polygon points="912,8 917.5,8 914.75,11" fill="#000"/>
<text x="938" y="13" font-size="9.800" fill="#3c3c3c" textLength="13" lengthAdjust="spacingAndGlyphs">M1</text>
<text x="966.5" y="13" font-size="9.800" fill="#3c3c3c" textLength="13" lengthAdjust="spacingAndGlyphs">M5</text>
<text x="992.5" y="13" font-size="9.800" fill="#3c3c3c" textLength="18" lengthAdjust="spacingAndGlyphs">M15</text>
<text x="1020.5" y="13" font-size="9.800" fill="#3c3c3c" textLength="18" lengthAdjust="spacingAndGlyphs">M30</text>
<text x="1051" y="13" font-size="9.800" fill="#3c3c3c" textLength="12" lengthAdjust="spacingAndGlyphs">H1</text>
<text x="1078" y="13" font-size="9.800" fill="#3c3c3c" textLength="13" lengthAdjust="spacingAndGlyphs">H4</text>
<text x="1107.5" y="13" font-size="9.800" fill="#3c3c3c" textLength="12" lengthAdjust="spacingAndGlyphs">D1</text>
<text x="1134.5" y="13" font-size="9.800" fill="#3c3c3c" textLength="15" lengthAdjust="spacingAndGlyphs">W1</text>
<text x="1161" y="13" font-size="9.800" fill="#3c3c3c" textLength="15" lengthAdjust="spacingAndGlyphs">MN</text>
<line x1="1648" y1="13" x2="1652" y2="8.500" stroke="#2c60c8" stroke-width="2.400" stroke-linecap="round"/>
<circle cx="1654.500" cy="6" r="3.800" fill="#f4f8ff" stroke="#2c60c8" stroke-width="1.400"/>
<path d="M1672 11a5 4 0 1 1 4 3.800l-2.500 2.500v-3a5 4 0 0 1 -1.500-3.300z" fill="#e0e4ec" stroke="#b0b8c4" stroke-width="0.800"/>
<circle cx="1685.500" cy="6.500" r="8" fill="url(#gr)"/>
<text x="1685.500" y="11" font-size="12" fill="#fff" text-anchor="middle">1</text>
</g>
</svg></body></html>
